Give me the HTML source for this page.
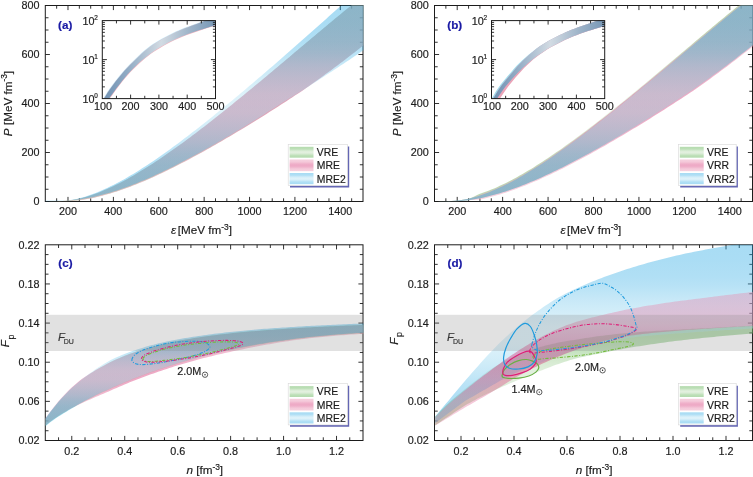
<!DOCTYPE html>
<html><head><meta charset="utf-8"><title>EoS bands</title>
<style>html,body{margin:0;padding:0;background:#fff;}body{width:753px;height:477px;overflow:hidden;font-family:"Liberation Sans", sans-serif;}svg{display:block;will-change:transform;}text{stroke:#1c1c1c;stroke-width:0.18px;}</style></head>
<body>
<svg width="753" height="477" viewBox="0 0 753 477" font-family='"Liberation Sans", sans-serif' fill="#1c1c1c" shape-rendering="geometricPrecision">
<defs><clipPath id="c1"><rect x="45.3" y="5.5" width="318.2" height="196"/></clipPath><linearGradient id="g2" gradientUnits="userSpaceOnUse" x1="0" y1="5.5" x2="0" y2="201.5"><stop offset="0" stop-color="#6db961"/><stop offset="0.1" stop-color="#71bb66"/><stop offset="0.19" stop-color="#7cc071"/><stop offset="0.24" stop-color="#88c57e"/><stop offset="0.31" stop-color="#a1d197"/><stop offset="0.38" stop-color="#b4d9ac"/><stop offset="0.45" stop-color="#c3e0bb"/><stop offset="0.5" stop-color="#c5e1bd"/><stop offset="0.55" stop-color="#c3e0bb"/><stop offset="0.62" stop-color="#b4d9ac"/><stop offset="0.69" stop-color="#a1d197"/><stop offset="0.76" stop-color="#88c57e"/><stop offset="0.81" stop-color="#7cc071"/><stop offset="0.9" stop-color="#71bb66"/><stop offset="1" stop-color="#6db961"/></linearGradient><linearGradient id="g3" gradientUnits="userSpaceOnUse" x1="0" y1="5.5" x2="0" y2="201.5"><stop offset="0" stop-color="#eda1bd"/><stop offset="0.1" stop-color="#ec9dbb"/><stop offset="0.19" stop-color="#ea94b5"/><stop offset="0.24" stop-color="#e889ae"/><stop offset="0.31" stop-color="#e474a1"/><stop offset="0.38" stop-color="#e06396"/><stop offset="0.45" stop-color="#dd578e"/><stop offset="0.5" stop-color="#dd558d"/><stop offset="0.55" stop-color="#dd578e"/><stop offset="0.62" stop-color="#e06396"/><stop offset="0.69" stop-color="#e474a1"/><stop offset="0.76" stop-color="#e889ae"/><stop offset="0.81" stop-color="#ea94b5"/><stop offset="0.9" stop-color="#ec9dbb"/><stop offset="1" stop-color="#eda1bd"/></linearGradient><linearGradient id="g4" gradientUnits="userSpaceOnUse" x1="0" y1="5.5" x2="0" y2="201.5"><stop offset="0" stop-color="#25a7e3"/><stop offset="0.1" stop-color="#2caae4"/><stop offset="0.19" stop-color="#3cb0e6"/><stop offset="0.24" stop-color="#4fb8e8"/><stop offset="0.31" stop-color="#75c7ec"/><stop offset="0.38" stop-color="#92d4ef"/><stop offset="0.45" stop-color="#a9ddf2"/><stop offset="0.5" stop-color="#acdef2"/><stop offset="0.55" stop-color="#a9ddf2"/><stop offset="0.62" stop-color="#92d4ef"/><stop offset="0.69" stop-color="#75c7ec"/><stop offset="0.76" stop-color="#4fb8e8"/><stop offset="0.81" stop-color="#3cb0e6"/><stop offset="0.9" stop-color="#2caae4"/><stop offset="1" stop-color="#25a7e3"/></linearGradient><clipPath id="c5"><rect x="102.3" y="20.6" width="113.2" height="78"/></clipPath><linearGradient id="g6" gradientUnits="userSpaceOnUse" x1="102.3" y1="0" x2="215.5" y2="0"><stop offset="0" stop-color="#6e90b2"/><stop offset="0.22" stop-color="#90abc4"/><stop offset="0.52" stop-color="#d2dbe3"/><stop offset="0.78" stop-color="#9db3c8"/><stop offset="1" stop-color="#7797b6"/></linearGradient><linearGradient id="g7" gradientUnits="userSpaceOnUse" x1="0" y1="146.8" x2="0" y2="157.7"><stop offset="0" stop-color="#6db961"/><stop offset="0.1" stop-color="#71bb66"/><stop offset="0.19" stop-color="#7cc071"/><stop offset="0.24" stop-color="#88c57e"/><stop offset="0.31" stop-color="#a1d197"/><stop offset="0.38" stop-color="#b4d9ac"/><stop offset="0.45" stop-color="#c3e0bb"/><stop offset="0.5" stop-color="#c5e1bd"/><stop offset="0.55" stop-color="#c3e0bb"/><stop offset="0.62" stop-color="#b4d9ac"/><stop offset="0.69" stop-color="#a1d197"/><stop offset="0.76" stop-color="#88c57e"/><stop offset="0.81" stop-color="#7cc071"/><stop offset="0.9" stop-color="#71bb66"/><stop offset="1" stop-color="#6db961"/></linearGradient><linearGradient id="g8" gradientUnits="userSpaceOnUse" x1="0" y1="159.5" x2="0" y2="171.2"><stop offset="0" stop-color="#eda1bd"/><stop offset="0.1" stop-color="#ec9dbb"/><stop offset="0.19" stop-color="#ea94b5"/><stop offset="0.24" stop-color="#e889ae"/><stop offset="0.31" stop-color="#e474a1"/><stop offset="0.38" stop-color="#e06396"/><stop offset="0.45" stop-color="#dd578e"/><stop offset="0.5" stop-color="#dd558d"/><stop offset="0.55" stop-color="#dd578e"/><stop offset="0.62" stop-color="#e06396"/><stop offset="0.69" stop-color="#e474a1"/><stop offset="0.76" stop-color="#e889ae"/><stop offset="0.81" stop-color="#ea94b5"/><stop offset="0.9" stop-color="#ec9dbb"/><stop offset="1" stop-color="#eda1bd"/></linearGradient><linearGradient id="g9" gradientUnits="userSpaceOnUse" x1="0" y1="173" x2="0" y2="184.2"><stop offset="0" stop-color="#25a7e3"/><stop offset="0.1" stop-color="#2caae4"/><stop offset="0.19" stop-color="#3cb0e6"/><stop offset="0.24" stop-color="#4fb8e8"/><stop offset="0.31" stop-color="#75c7ec"/><stop offset="0.38" stop-color="#92d4ef"/><stop offset="0.45" stop-color="#a9ddf2"/><stop offset="0.5" stop-color="#acdef2"/><stop offset="0.55" stop-color="#a9ddf2"/><stop offset="0.62" stop-color="#92d4ef"/><stop offset="0.69" stop-color="#75c7ec"/><stop offset="0.76" stop-color="#4fb8e8"/><stop offset="0.81" stop-color="#3cb0e6"/><stop offset="0.9" stop-color="#2caae4"/><stop offset="1" stop-color="#25a7e3"/></linearGradient><clipPath id="c10"><rect x="434.5" y="5.5" width="318.5" height="196"/></clipPath><linearGradient id="g11" gradientUnits="userSpaceOnUse" x1="0" y1="5.5" x2="0" y2="201.5"><stop offset="0" stop-color="#6db961"/><stop offset="0.1" stop-color="#71bb66"/><stop offset="0.19" stop-color="#7cc071"/><stop offset="0.24" stop-color="#88c57e"/><stop offset="0.31" stop-color="#a1d197"/><stop offset="0.38" stop-color="#b4d9ac"/><stop offset="0.45" stop-color="#c3e0bb"/><stop offset="0.5" stop-color="#c5e1bd"/><stop offset="0.55" stop-color="#c3e0bb"/><stop offset="0.62" stop-color="#b4d9ac"/><stop offset="0.69" stop-color="#a1d197"/><stop offset="0.76" stop-color="#88c57e"/><stop offset="0.81" stop-color="#7cc071"/><stop offset="0.9" stop-color="#71bb66"/><stop offset="1" stop-color="#6db961"/></linearGradient><linearGradient id="g12" gradientUnits="userSpaceOnUse" x1="0" y1="5.5" x2="0" y2="201.5"><stop offset="0" stop-color="#eda1bd"/><stop offset="0.1" stop-color="#ec9dbb"/><stop offset="0.19" stop-color="#ea94b5"/><stop offset="0.24" stop-color="#e889ae"/><stop offset="0.31" stop-color="#e474a1"/><stop offset="0.38" stop-color="#e06396"/><stop offset="0.45" stop-color="#dd578e"/><stop offset="0.5" stop-color="#dd558d"/><stop offset="0.55" stop-color="#dd578e"/><stop offset="0.62" stop-color="#e06396"/><stop offset="0.69" stop-color="#e474a1"/><stop offset="0.76" stop-color="#e889ae"/><stop offset="0.81" stop-color="#ea94b5"/><stop offset="0.9" stop-color="#ec9dbb"/><stop offset="1" stop-color="#eda1bd"/></linearGradient><linearGradient id="g13" gradientUnits="userSpaceOnUse" x1="0" y1="5.5" x2="0" y2="201.5"><stop offset="0" stop-color="#25a7e3"/><stop offset="0.1" stop-color="#2caae4"/><stop offset="0.19" stop-color="#3cb0e6"/><stop offset="0.24" stop-color="#4fb8e8"/><stop offset="0.31" stop-color="#75c7ec"/><stop offset="0.38" stop-color="#92d4ef"/><stop offset="0.45" stop-color="#a9ddf2"/><stop offset="0.5" stop-color="#acdef2"/><stop offset="0.55" stop-color="#a9ddf2"/><stop offset="0.62" stop-color="#92d4ef"/><stop offset="0.69" stop-color="#75c7ec"/><stop offset="0.76" stop-color="#4fb8e8"/><stop offset="0.81" stop-color="#3cb0e6"/><stop offset="0.9" stop-color="#2caae4"/><stop offset="1" stop-color="#25a7e3"/></linearGradient><clipPath id="c14"><rect x="491.5" y="20.6" width="113.2" height="78"/></clipPath><linearGradient id="g15" gradientUnits="userSpaceOnUse" x1="491.5" y1="0" x2="604.7" y2="0"><stop offset="0" stop-color="#6e90b2"/><stop offset="0.22" stop-color="#90abc4"/><stop offset="0.52" stop-color="#d2dbe3"/><stop offset="0.78" stop-color="#9db3c8"/><stop offset="1" stop-color="#7797b6"/></linearGradient><linearGradient id="g16" gradientUnits="userSpaceOnUse" x1="0" y1="146.8" x2="0" y2="157.7"><stop offset="0" stop-color="#6db961"/><stop offset="0.1" stop-color="#71bb66"/><stop offset="0.19" stop-color="#7cc071"/><stop offset="0.24" stop-color="#88c57e"/><stop offset="0.31" stop-color="#a1d197"/><stop offset="0.38" stop-color="#b4d9ac"/><stop offset="0.45" stop-color="#c3e0bb"/><stop offset="0.5" stop-color="#c5e1bd"/><stop offset="0.55" stop-color="#c3e0bb"/><stop offset="0.62" stop-color="#b4d9ac"/><stop offset="0.69" stop-color="#a1d197"/><stop offset="0.76" stop-color="#88c57e"/><stop offset="0.81" stop-color="#7cc071"/><stop offset="0.9" stop-color="#71bb66"/><stop offset="1" stop-color="#6db961"/></linearGradient><linearGradient id="g17" gradientUnits="userSpaceOnUse" x1="0" y1="159.5" x2="0" y2="171.2"><stop offset="0" stop-color="#eda1bd"/><stop offset="0.1" stop-color="#ec9dbb"/><stop offset="0.19" stop-color="#ea94b5"/><stop offset="0.24" stop-color="#e889ae"/><stop offset="0.31" stop-color="#e474a1"/><stop offset="0.38" stop-color="#e06396"/><stop offset="0.45" stop-color="#dd578e"/><stop offset="0.5" stop-color="#dd558d"/><stop offset="0.55" stop-color="#dd578e"/><stop offset="0.62" stop-color="#e06396"/><stop offset="0.69" stop-color="#e474a1"/><stop offset="0.76" stop-color="#e889ae"/><stop offset="0.81" stop-color="#ea94b5"/><stop offset="0.9" stop-color="#ec9dbb"/><stop offset="1" stop-color="#eda1bd"/></linearGradient><linearGradient id="g18" gradientUnits="userSpaceOnUse" x1="0" y1="173" x2="0" y2="184.2"><stop offset="0" stop-color="#25a7e3"/><stop offset="0.1" stop-color="#2caae4"/><stop offset="0.19" stop-color="#3cb0e6"/><stop offset="0.24" stop-color="#4fb8e8"/><stop offset="0.31" stop-color="#75c7ec"/><stop offset="0.38" stop-color="#92d4ef"/><stop offset="0.45" stop-color="#a9ddf2"/><stop offset="0.5" stop-color="#acdef2"/><stop offset="0.55" stop-color="#a9ddf2"/><stop offset="0.62" stop-color="#92d4ef"/><stop offset="0.69" stop-color="#75c7ec"/><stop offset="0.76" stop-color="#4fb8e8"/><stop offset="0.81" stop-color="#3cb0e6"/><stop offset="0.9" stop-color="#2caae4"/><stop offset="1" stop-color="#25a7e3"/></linearGradient><clipPath id="c19"><rect x="45.3" y="244.8" width="318.2" height="195.7"/></clipPath><linearGradient id="g20" gradientUnits="userSpaceOnUse" x1="0" y1="324" x2="0" y2="426"><stop offset="0" stop-color="#6db961"/><stop offset="0.1" stop-color="#71bb66"/><stop offset="0.19" stop-color="#7cc071"/><stop offset="0.24" stop-color="#88c57e"/><stop offset="0.31" stop-color="#a1d197"/><stop offset="0.38" stop-color="#b4d9ac"/><stop offset="0.45" stop-color="#c3e0bb"/><stop offset="0.5" stop-color="#c5e1bd"/><stop offset="0.55" stop-color="#c3e0bb"/><stop offset="0.62" stop-color="#b4d9ac"/><stop offset="0.69" stop-color="#a1d197"/><stop offset="0.76" stop-color="#88c57e"/><stop offset="0.81" stop-color="#7cc071"/><stop offset="0.9" stop-color="#71bb66"/><stop offset="1" stop-color="#6db961"/></linearGradient><linearGradient id="g21" gradientUnits="userSpaceOnUse" x1="0" y1="324" x2="0" y2="426"><stop offset="0" stop-color="#eda1bd"/><stop offset="0.1" stop-color="#ec9dbb"/><stop offset="0.19" stop-color="#ea94b5"/><stop offset="0.24" stop-color="#e889ae"/><stop offset="0.31" stop-color="#e474a1"/><stop offset="0.38" stop-color="#e06396"/><stop offset="0.45" stop-color="#dd578e"/><stop offset="0.5" stop-color="#dd558d"/><stop offset="0.55" stop-color="#dd578e"/><stop offset="0.62" stop-color="#e06396"/><stop offset="0.69" stop-color="#e474a1"/><stop offset="0.76" stop-color="#e889ae"/><stop offset="0.81" stop-color="#ea94b5"/><stop offset="0.9" stop-color="#ec9dbb"/><stop offset="1" stop-color="#eda1bd"/></linearGradient><linearGradient id="g22" gradientUnits="userSpaceOnUse" x1="0" y1="324" x2="0" y2="426"><stop offset="0" stop-color="#25a7e3"/><stop offset="0.1" stop-color="#2caae4"/><stop offset="0.19" stop-color="#3cb0e6"/><stop offset="0.24" stop-color="#4fb8e8"/><stop offset="0.31" stop-color="#75c7ec"/><stop offset="0.38" stop-color="#92d4ef"/><stop offset="0.45" stop-color="#a9ddf2"/><stop offset="0.5" stop-color="#acdef2"/><stop offset="0.55" stop-color="#a9ddf2"/><stop offset="0.62" stop-color="#92d4ef"/><stop offset="0.69" stop-color="#75c7ec"/><stop offset="0.76" stop-color="#4fb8e8"/><stop offset="0.81" stop-color="#3cb0e6"/><stop offset="0.9" stop-color="#2caae4"/><stop offset="1" stop-color="#25a7e3"/></linearGradient><linearGradient id="g23" gradientUnits="userSpaceOnUse" x1="0" y1="386.1" x2="0" y2="397"><stop offset="0" stop-color="#6db961"/><stop offset="0.1" stop-color="#71bb66"/><stop offset="0.19" stop-color="#7cc071"/><stop offset="0.24" stop-color="#88c57e"/><stop offset="0.31" stop-color="#a1d197"/><stop offset="0.38" stop-color="#b4d9ac"/><stop offset="0.45" stop-color="#c3e0bb"/><stop offset="0.5" stop-color="#c5e1bd"/><stop offset="0.55" stop-color="#c3e0bb"/><stop offset="0.62" stop-color="#b4d9ac"/><stop offset="0.69" stop-color="#a1d197"/><stop offset="0.76" stop-color="#88c57e"/><stop offset="0.81" stop-color="#7cc071"/><stop offset="0.9" stop-color="#71bb66"/><stop offset="1" stop-color="#6db961"/></linearGradient><linearGradient id="g24" gradientUnits="userSpaceOnUse" x1="0" y1="398.8" x2="0" y2="410.5"><stop offset="0" stop-color="#eda1bd"/><stop offset="0.1" stop-color="#ec9dbb"/><stop offset="0.19" stop-color="#ea94b5"/><stop offset="0.24" stop-color="#e889ae"/><stop offset="0.31" stop-color="#e474a1"/><stop offset="0.38" stop-color="#e06396"/><stop offset="0.45" stop-color="#dd578e"/><stop offset="0.5" stop-color="#dd558d"/><stop offset="0.55" stop-color="#dd578e"/><stop offset="0.62" stop-color="#e06396"/><stop offset="0.69" stop-color="#e474a1"/><stop offset="0.76" stop-color="#e889ae"/><stop offset="0.81" stop-color="#ea94b5"/><stop offset="0.9" stop-color="#ec9dbb"/><stop offset="1" stop-color="#eda1bd"/></linearGradient><linearGradient id="g25" gradientUnits="userSpaceOnUse" x1="0" y1="412.3" x2="0" y2="423.5"><stop offset="0" stop-color="#25a7e3"/><stop offset="0.1" stop-color="#2caae4"/><stop offset="0.19" stop-color="#3cb0e6"/><stop offset="0.24" stop-color="#4fb8e8"/><stop offset="0.31" stop-color="#75c7ec"/><stop offset="0.38" stop-color="#92d4ef"/><stop offset="0.45" stop-color="#a9ddf2"/><stop offset="0.5" stop-color="#acdef2"/><stop offset="0.55" stop-color="#a9ddf2"/><stop offset="0.62" stop-color="#92d4ef"/><stop offset="0.69" stop-color="#75c7ec"/><stop offset="0.76" stop-color="#4fb8e8"/><stop offset="0.81" stop-color="#3cb0e6"/><stop offset="0.9" stop-color="#2caae4"/><stop offset="1" stop-color="#25a7e3"/></linearGradient><clipPath id="c26"><rect x="434.5" y="244.8" width="318.5" height="195.7"/></clipPath><linearGradient id="g27" gradientUnits="userSpaceOnUse" x1="0" y1="326" x2="0" y2="426.4"><stop offset="0" stop-color="#6db961"/><stop offset="0.1" stop-color="#71bb66"/><stop offset="0.19" stop-color="#7cc071"/><stop offset="0.24" stop-color="#88c57e"/><stop offset="0.31" stop-color="#a1d197"/><stop offset="0.38" stop-color="#b4d9ac"/><stop offset="0.45" stop-color="#c3e0bb"/><stop offset="0.5" stop-color="#c5e1bd"/><stop offset="0.55" stop-color="#c3e0bb"/><stop offset="0.62" stop-color="#b4d9ac"/><stop offset="0.69" stop-color="#a1d197"/><stop offset="0.76" stop-color="#88c57e"/><stop offset="0.81" stop-color="#7cc071"/><stop offset="0.9" stop-color="#71bb66"/><stop offset="1" stop-color="#6db961"/></linearGradient><linearGradient id="g28" gradientUnits="userSpaceOnUse" x1="0" y1="292" x2="0" y2="430"><stop offset="0" stop-color="#e88aad"/><stop offset="0.1" stop-color="#e785aa"/><stop offset="0.19" stop-color="#e57aa3"/><stop offset="0.24" stop-color="#e26d9a"/><stop offset="0.31" stop-color="#dd528a"/><stop offset="0.38" stop-color="#d93d7c"/><stop offset="0.45" stop-color="#d52d72"/><stop offset="0.5" stop-color="#d52b71"/><stop offset="0.55" stop-color="#d52d72"/><stop offset="0.62" stop-color="#d93d7c"/><stop offset="0.69" stop-color="#dd528a"/><stop offset="0.76" stop-color="#e26d9a"/><stop offset="0.81" stop-color="#e57aa3"/><stop offset="0.9" stop-color="#e785aa"/><stop offset="1" stop-color="#e88aad"/></linearGradient><linearGradient id="g29" gradientUnits="userSpaceOnUse" x1="0" y1="241.5" x2="0" y2="430"><stop offset="0" stop-color="#25a7e3"/><stop offset="0.1" stop-color="#2caae4"/><stop offset="0.19" stop-color="#3cb0e6"/><stop offset="0.24" stop-color="#4fb8e8"/><stop offset="0.31" stop-color="#75c7ec"/><stop offset="0.38" stop-color="#92d4ef"/><stop offset="0.45" stop-color="#a9ddf2"/><stop offset="0.5" stop-color="#acdef2"/><stop offset="0.55" stop-color="#a9ddf2"/><stop offset="0.62" stop-color="#92d4ef"/><stop offset="0.69" stop-color="#75c7ec"/><stop offset="0.76" stop-color="#4fb8e8"/><stop offset="0.81" stop-color="#3cb0e6"/><stop offset="0.9" stop-color="#2caae4"/><stop offset="1" stop-color="#25a7e3"/></linearGradient><linearGradient id="g30" gradientUnits="userSpaceOnUse" x1="0" y1="386.1" x2="0" y2="397"><stop offset="0" stop-color="#6db961"/><stop offset="0.1" stop-color="#71bb66"/><stop offset="0.19" stop-color="#7cc071"/><stop offset="0.24" stop-color="#88c57e"/><stop offset="0.31" stop-color="#a1d197"/><stop offset="0.38" stop-color="#b4d9ac"/><stop offset="0.45" stop-color="#c3e0bb"/><stop offset="0.5" stop-color="#c5e1bd"/><stop offset="0.55" stop-color="#c3e0bb"/><stop offset="0.62" stop-color="#b4d9ac"/><stop offset="0.69" stop-color="#a1d197"/><stop offset="0.76" stop-color="#88c57e"/><stop offset="0.81" stop-color="#7cc071"/><stop offset="0.9" stop-color="#71bb66"/><stop offset="1" stop-color="#6db961"/></linearGradient><linearGradient id="g31" gradientUnits="userSpaceOnUse" x1="0" y1="398.8" x2="0" y2="410.5"><stop offset="0" stop-color="#eda1bd"/><stop offset="0.1" stop-color="#ec9dbb"/><stop offset="0.19" stop-color="#ea94b5"/><stop offset="0.24" stop-color="#e889ae"/><stop offset="0.31" stop-color="#e474a1"/><stop offset="0.38" stop-color="#e06396"/><stop offset="0.45" stop-color="#dd578e"/><stop offset="0.5" stop-color="#dd558d"/><stop offset="0.55" stop-color="#dd578e"/><stop offset="0.62" stop-color="#e06396"/><stop offset="0.69" stop-color="#e474a1"/><stop offset="0.76" stop-color="#e889ae"/><stop offset="0.81" stop-color="#ea94b5"/><stop offset="0.9" stop-color="#ec9dbb"/><stop offset="1" stop-color="#eda1bd"/></linearGradient><linearGradient id="g32" gradientUnits="userSpaceOnUse" x1="0" y1="412.3" x2="0" y2="423.5"><stop offset="0" stop-color="#25a7e3"/><stop offset="0.1" stop-color="#2caae4"/><stop offset="0.19" stop-color="#3cb0e6"/><stop offset="0.24" stop-color="#4fb8e8"/><stop offset="0.31" stop-color="#75c7ec"/><stop offset="0.38" stop-color="#92d4ef"/><stop offset="0.45" stop-color="#a9ddf2"/><stop offset="0.5" stop-color="#acdef2"/><stop offset="0.55" stop-color="#a9ddf2"/><stop offset="0.62" stop-color="#92d4ef"/><stop offset="0.69" stop-color="#75c7ec"/><stop offset="0.76" stop-color="#4fb8e8"/><stop offset="0.81" stop-color="#3cb0e6"/><stop offset="0.9" stop-color="#2caae4"/><stop offset="1" stop-color="#25a7e3"/></linearGradient></defs>
<rect x="45.3" y="5.5" width="317.7" height="196" fill="none" stroke="#1c1c1c" stroke-width="1.0"/>
<path d="M67.99 201.5v-4.6 M67.99 5.5v4.6 M113.38 201.5v-4.6 M113.38 5.5v4.6 M158.76 201.5v-4.6 M158.76 5.5v4.6 M204.15 201.5v-4.6 M204.15 5.5v4.6 M249.54 201.5v-4.6 M249.54 5.5v4.6 M294.92 201.5v-4.6 M294.92 5.5v4.6 M340.31 201.5v-4.6 M340.31 5.5v4.6 M56.65 201.5v-3.2 M56.65 5.5v3.2 M79.34 201.5v-3.2 M79.34 5.5v3.2 M90.69 201.5v-3.2 M90.69 5.5v3.2 M102.03 201.5v-3.2 M102.03 5.5v3.2 M124.72 201.5v-3.2 M124.72 5.5v3.2 M136.07 201.5v-3.2 M136.07 5.5v3.2 M147.42 201.5v-3.2 M147.42 5.5v3.2 M170.11 201.5v-3.2 M170.11 5.5v3.2 M181.46 201.5v-3.2 M181.46 5.5v3.2 M192.8 201.5v-3.2 M192.8 5.5v3.2 M215.5 201.5v-3.2 M215.5 5.5v3.2 M226.84 201.5v-3.2 M226.84 5.5v3.2 M238.19 201.5v-3.2 M238.19 5.5v3.2 M260.88 201.5v-3.2 M260.88 5.5v3.2 M272.23 201.5v-3.2 M272.23 5.5v3.2 M283.57 201.5v-3.2 M283.57 5.5v3.2 M306.27 201.5v-3.2 M306.27 5.5v3.2 M317.61 201.5v-3.2 M317.61 5.5v3.2 M328.96 201.5v-3.2 M328.96 5.5v3.2 M351.65 201.5v-3.2 M351.65 5.5v3.2 " stroke="#1c1c1c" stroke-width="0.9" fill="none"/>
<path d="M45.3 152.5h4.6 M363 152.5h-4.6 M45.3 103.5h4.6 M363 103.5h-4.6 M45.3 54.5h4.6 M363 54.5h-4.6 M45.3 189.25h3.2 M363 189.25h-3.2 M45.3 177h3.2 M363 177h-3.2 M45.3 164.75h3.2 M363 164.75h-3.2 M45.3 140.25h3.2 M363 140.25h-3.2 M45.3 128h3.2 M363 128h-3.2 M45.3 115.75h3.2 M363 115.75h-3.2 M45.3 91.25h3.2 M363 91.25h-3.2 M45.3 79h3.2 M363 79h-3.2 M45.3 66.75h3.2 M363 66.75h-3.2 M45.3 42.25h3.2 M363 42.25h-3.2 M45.3 30h3.2 M363 30h-3.2 M45.3 17.75h3.2 M363 17.75h-3.2 " stroke="#1c1c1c" stroke-width="0.9" fill="none"/>
<text x="67.99" y="215.2" font-size="10.8" text-anchor="middle" >200</text>
<text x="113.38" y="215.2" font-size="10.8" text-anchor="middle" >400</text>
<text x="158.76" y="215.2" font-size="10.8" text-anchor="middle" >600</text>
<text x="204.15" y="215.2" font-size="10.8" text-anchor="middle" >800</text>
<text x="249.54" y="215.2" font-size="10.8" text-anchor="middle" >1000</text>
<text x="294.92" y="215.2" font-size="10.8" text-anchor="middle" >1200</text>
<text x="340.31" y="215.2" font-size="10.8" text-anchor="middle" >1400</text>
<text x="39.5" y="205.3" font-size="10.8" text-anchor="end" >0</text>
<text x="39.5" y="156.3" font-size="10.8" text-anchor="end" >200</text>
<text x="39.5" y="107.3" font-size="10.8" text-anchor="end" >400</text>
<text x="39.5" y="58.3" font-size="10.8" text-anchor="end" >600</text>
<text x="39.5" y="9.3" font-size="10.8" text-anchor="end" >800</text>
<text x="201.55" y="233.7" font-size="11.7" text-anchor="middle" ><tspan font-style="italic">&#949;</tspan><tspan dx="1.5">[MeV fm</tspan><tspan dy="-4.2" font-size="8.4">-3</tspan><tspan dy="4.2">]</tspan></text>
<text transform="translate(11.6 103.5) rotate(-90)" font-size="11.7" text-anchor="middle"><tspan font-style="italic">P</tspan> [MeV fm<tspan dy="-4.2" font-size="8.4">-3</tspan><tspan dy="4.2">]</tspan></text>
<text x="58.1" y="28.6" font-size="11.7" text-anchor="start" font-weight="bold" fill="#1a1aa4" style="stroke:#1a1aa4">(a)</text>
<g clip-path="url(#c1)">
<path d="M45.3 201.5 L48.14 201.43 L50.97 201.37 L53.81 201.3 L56.65 201.21 L59.48 201.09 L62.32 200.94 L65.16 200.75 L67.99 200.52 L70.83 200.21 L73.67 199.79 L76.5 199.3 L79.34 198.74 L82.18 198.09 L85.01 197.29 L87.85 196.42 L90.69 195.5 L93.52 194.55 L96.36 193.51 L99.2 192.42 L102.03 191.29 L104.87 190.11 L107.71 188.86 L110.54 187.57 L113.38 186.23 L116.22 184.85 L119.05 183.42 L121.89 181.95 L124.72 180.44 L127.56 178.9 L130.4 177.31 L133.23 175.68 L136.07 174.03 L138.91 172.34 L141.74 170.61 L144.58 168.85 L147.42 167.07 L150.25 165.26 L153.09 163.42 L155.93 161.55 L158.76 159.66 L161.6 157.74 L164.44 155.8 L167.27 153.83 L170.11 151.85 L172.95 149.85 L175.78 147.82 L178.62 145.77 L181.46 143.71 L184.29 141.63 L187.13 139.53 L189.97 137.42 L192.8 135.29 L195.64 133.15 L198.48 130.99 L201.31 128.81 L204.15 126.63 L206.99 124.43 L209.82 122.22 L212.66 120 L215.5 117.77 L218.33 115.53 L221.17 113.27 L224.01 111.01 L226.84 108.74 L229.68 106.46 L232.52 104.17 L235.35 101.87 L238.19 99.56 L241.03 97.25 L243.86 94.93 L246.7 92.61 L249.54 90.27 L252.37 87.94 L255.21 85.59 L258.05 83.24 L260.88 80.89 L263.72 78.53 L266.56 76.17 L269.39 73.8 L272.23 71.43 L275.07 69.06 L277.9 66.68 L280.74 64.3 L283.57 61.92 L286.41 59.53 L289.25 57.15 L292.08 54.76 L294.92 52.37 L297.76 49.99 L300.59 47.6 L303.43 45.21 L306.27 42.82 L309.1 40.44 L311.94 38.06 L314.78 35.67 L317.61 33.3 L320.45 30.92 L323.29 28.55 L326.12 26.18 L328.96 23.82 L331.8 21.46 L334.63 19.11 L337.47 16.76 L340.31 14.42 L343.14 12.09 L345.98 9.77 L348.82 7.46 L351.65 5.16 L354.49 2.87 L357.33 0.59 L360.16 -1.68 L363 -3.93 L365.84 -6.16 L368.67 -8.38 L371.51 -10.58 L374.35 -12.79 L374.35 36.15 L371.51 38.47 L368.67 40.8 L365.84 43.11 L363 45.41 L360.16 47.67 L357.33 49.91 L354.49 52.14 L351.65 54.35 L348.82 56.55 L345.98 58.72 L343.14 60.88 L340.31 63.03 L337.47 65.16 L334.63 67.28 L331.8 69.38 L328.96 71.47 L326.12 73.55 L323.29 75.62 L320.45 77.67 L317.61 79.71 L314.78 81.75 L311.94 83.79 L309.1 85.8 L306.27 87.77 L303.43 89.7 L300.59 91.59 L297.76 93.46 L294.92 95.33 L292.08 97.19 L289.25 99.05 L286.41 100.9 L283.57 102.74 L280.74 104.57 L277.9 106.39 L275.07 108.21 L272.23 110.01 L269.39 111.81 L266.56 113.6 L263.72 115.39 L260.88 117.16 L258.05 118.93 L255.21 120.69 L252.37 122.44 L249.54 124.18 L246.7 125.92 L243.86 127.64 L241.03 129.36 L238.19 131.07 L235.35 132.77 L232.52 134.46 L229.68 136.15 L226.84 137.82 L224.01 139.48 L221.17 141.14 L218.33 142.78 L215.5 144.41 L212.66 146.04 L209.82 147.65 L206.99 149.25 L204.15 150.84 L201.31 152.41 L198.48 153.98 L195.64 155.53 L192.8 157.07 L189.97 158.59 L187.13 160.1 L184.29 161.6 L181.46 163.07 L178.62 164.54 L175.78 165.99 L172.95 167.42 L170.11 168.83 L167.27 170.22 L164.44 171.6 L161.6 172.96 L158.76 174.29 L155.93 175.6 L153.09 176.9 L150.25 178.17 L147.42 179.42 L144.58 180.64 L141.74 181.84 L138.91 183.02 L136.07 184.17 L133.23 185.29 L130.4 186.38 L127.56 187.45 L124.72 188.48 L121.89 189.49 L119.05 190.46 L116.22 191.41 L113.38 192.31 L110.54 193.18 L107.71 194.03 L104.87 194.83 L102.03 195.59 L99.2 196.31 L96.36 197 L93.52 197.65 L90.69 198.25 L87.85 198.82 L85.01 199.36 L82.18 199.84 L79.34 200.22 L76.5 200.54 L73.67 200.81 L70.83 201.04 L67.99 201.18 L65.16 201.27 L62.32 201.34 L59.48 201.39 L56.65 201.43 L53.81 201.45 L50.97 201.47 L48.14 201.48 L45.3 201.5 Z" fill="url(#g2)" fill-opacity="0.5"/>
<path d="M45.3 201.5 L48.14 201.43 L50.97 201.37 L53.81 201.3 L56.65 201.21 L59.48 201.09 L62.32 200.94 L65.16 200.75 L67.99 200.52 L70.83 200.21 L73.67 199.79 L76.5 199.3 L79.34 198.74 L82.18 198.09 L85.01 197.29 L87.85 196.42 L90.69 195.5 L93.52 194.55 L96.36 193.51 L99.2 192.42 L102.03 191.29 L104.87 190.11 L107.71 188.86 L110.54 187.57 L113.38 186.23 L116.22 184.85 L119.05 183.42 L121.89 181.95 L124.72 180.44 L127.56 178.9 L130.4 177.31 L133.23 175.68 L136.07 174.03 L138.91 172.34 L141.74 170.61 L144.58 168.85 L147.42 167.07 L150.25 165.26 L153.09 163.42 L155.93 161.55 L158.76 159.66 L161.6 157.74 L164.44 155.8 L167.27 153.83 L170.11 151.85 L172.95 149.85 L175.78 147.82 L178.62 145.77 L181.46 143.71 L184.29 141.63 L187.13 139.53 L189.97 137.42 L192.8 135.29 L195.64 133.15 L198.48 130.99 L201.31 128.81 L204.15 126.63 L206.99 124.43 L209.82 122.22 L212.66 120 L215.5 117.77 L218.33 115.53 L221.17 113.27 L224.01 111.01 L226.84 108.74 L229.68 106.46 L232.52 104.17 L235.35 101.87 L238.19 99.56 L241.03 97.25 L243.86 94.93 L246.7 92.61 L249.54 90.27 L252.37 87.94 L255.21 85.59 L258.05 83.24 L260.88 80.89 L263.72 78.53 L266.56 76.17 L269.39 73.8 L272.23 71.43 L275.07 69.06 L277.9 66.68 L280.74 64.3 L283.57 61.92 L286.41 59.53 L289.25 57.15 L292.08 54.76 L294.92 52.37 L297.76 49.99 L300.59 47.6 L303.43 45.21 L306.27 42.82 L309.1 40.44 L311.94 38.06 L314.78 35.67 L317.61 33.3 L320.45 30.92 L323.29 28.55 L326.12 26.18 L328.96 23.82 L331.8 21.46 L334.63 19.11 L337.47 16.76 L340.31 14.42 L343.14 12.09 L345.98 9.77 L348.82 7.46 L351.65 5.16 L354.49 2.87 L357.33 0.59 L360.16 -1.68 L363 -3.93 L365.84 -6.16 L368.67 -8.38 L371.51 -10.58 L374.35 -12.79 L374.35 36.45 L371.51 38.77 L368.67 41.09 L365.84 43.41 L363 45.7 L360.16 47.96 L357.33 50.21 L354.49 52.44 L351.65 54.65 L348.82 56.84 L345.98 59.02 L343.14 61.18 L340.31 63.32 L337.47 65.46 L334.63 67.57 L331.8 69.68 L328.96 71.77 L326.12 73.85 L323.29 75.91 L320.45 77.96 L317.61 80.01 L314.78 82.05 L311.94 84.08 L309.1 86.09 L306.27 88.07 L303.43 89.99 L300.59 91.88 L297.76 93.75 L294.92 95.62 L292.08 97.49 L289.25 99.34 L286.41 101.19 L283.57 103.03 L280.74 104.86 L277.9 106.69 L275.07 108.5 L272.23 110.31 L269.39 112.11 L266.56 113.9 L263.72 115.68 L260.88 117.46 L258.05 119.22 L255.21 120.98 L252.37 122.73 L249.54 124.48 L246.7 126.21 L243.86 127.94 L241.03 129.65 L238.19 131.36 L235.35 133.06 L232.52 134.76 L229.68 136.44 L226.84 138.11 L224.01 139.78 L221.17 141.43 L218.33 143.07 L215.5 144.71 L212.66 146.33 L209.82 147.94 L206.99 149.54 L204.15 151.13 L201.31 152.71 L198.48 154.27 L195.64 155.82 L192.8 157.36 L189.97 158.88 L187.13 160.39 L184.29 161.89 L181.46 163.37 L178.62 164.83 L175.78 166.28 L172.95 167.71 L170.11 169.12 L167.27 170.52 L164.44 171.89 L161.6 173.25 L158.76 174.58 L155.93 175.9 L153.09 177.19 L150.25 178.47 L147.42 179.71 L144.58 180.94 L141.74 182.14 L138.91 183.32 L136.07 184.46 L133.23 185.58 L130.4 186.68 L127.56 187.75 L124.72 188.78 L121.89 189.78 L119.05 190.76 L116.22 191.7 L113.38 192.61 L110.54 193.48 L107.71 194.32 L104.87 195.12 L102.03 195.88 L99.2 196.62 L96.36 197.32 L93.52 197.98 L90.69 198.54 L87.85 199.04 L85.01 199.49 L82.18 199.89 L79.34 200.22 L76.5 200.53 L73.67 200.81 L70.83 201.03 L67.99 201.18 L65.16 201.27 L62.32 201.34 L59.48 201.39 L56.65 201.43 L53.81 201.45 L50.97 201.47 L48.14 201.48 L45.3 201.5 Z" fill="url(#g3)" fill-opacity="0.5"/>
<path d="M45.3 201.5 L48.14 201.42 L50.97 201.33 L53.81 201.25 L56.65 201.13 L59.48 200.98 L62.32 200.79 L65.16 200.55 L67.99 200.28 L70.83 199.91 L73.67 199.45 L76.5 198.9 L79.34 198.29 L82.18 197.57 L85.01 196.72 L87.85 195.78 L90.69 194.8 L93.52 193.77 L96.36 192.67 L99.2 191.51 L102.03 190.31 L104.87 189.06 L107.71 187.74 L110.54 186.37 L113.38 184.96 L116.22 183.51 L119.05 182.01 L121.89 180.46 L124.72 178.88 L127.56 177.26 L130.4 175.6 L133.23 173.9 L136.07 172.17 L138.91 170.41 L141.74 168.61 L144.58 166.78 L147.42 164.93 L150.25 163.04 L153.09 161.13 L155.93 159.19 L158.76 157.23 L161.6 155.25 L164.44 153.24 L167.27 151.21 L170.11 149.16 L172.95 147.09 L175.78 145 L178.62 142.88 L181.46 140.76 L184.29 138.62 L187.13 136.46 L189.97 134.28 L192.8 132.09 L195.64 129.88 L198.48 127.67 L201.31 125.43 L204.15 123.19 L206.99 120.93 L209.82 118.66 L212.66 116.38 L215.5 114.09 L218.33 111.79 L221.17 109.47 L224.01 107.15 L226.84 104.82 L229.68 102.48 L232.52 100.13 L235.35 97.77 L238.19 95.4 L241.03 93.02 L243.86 90.64 L246.7 88.25 L249.54 85.85 L252.37 83.44 L255.21 81.03 L258.05 78.61 L260.88 76.18 L263.72 73.75 L266.56 71.31 L269.39 68.86 L272.23 66.41 L275.07 63.95 L277.9 61.48 L280.74 59.01 L283.57 56.54 L286.41 54.06 L289.25 51.57 L292.08 49.08 L294.92 46.58 L297.76 44.08 L300.59 41.58 L303.43 39.07 L306.27 36.56 L309.1 34.04 L311.94 31.53 L314.78 29 L317.61 26.48 L320.45 23.95 L323.29 21.42 L326.12 18.89 L328.96 16.36 L331.8 13.82 L334.63 11.28 L337.47 8.75 L340.31 6.21 L343.14 3.68 L345.98 1.14 L348.82 -1.39 L351.65 -3.92 L354.49 -6.45 L357.33 -8.98 L360.16 -11.5 L363 -14.02 L365.84 -16.53 L368.67 -19.03 L371.51 -21.53 L374.35 -24.03 L374.35 42.6 L371.51 44.59 L368.67 46.59 L365.84 48.58 L363 50.55 L360.16 52.5 L357.33 54.44 L354.49 56.37 L351.65 58.28 L348.82 60.19 L345.98 62.08 L343.14 63.97 L340.31 65.84 L337.47 67.71 L334.63 69.57 L331.8 71.43 L328.96 73.28 L326.12 75.12 L323.29 76.96 L320.45 78.8 L317.61 80.63 L314.78 82.47 L311.94 84.3 L309.1 86.13 L306.27 87.93 L303.43 89.7 L300.59 91.44 L297.76 93.17 L294.92 94.91 L292.08 96.67 L289.25 98.44 L286.41 100.21 L283.57 102 L280.74 103.81 L277.9 105.64 L275.07 107.47 L272.23 109.28 L269.39 111.08 L266.56 112.87 L263.72 114.65 L260.88 116.43 L258.05 118.19 L255.21 119.95 L252.37 121.7 L249.54 123.45 L246.7 125.18 L243.86 126.91 L241.03 128.63 L238.19 130.33 L235.35 132.04 L232.52 133.73 L229.68 135.41 L226.84 137.08 L224.01 138.75 L221.17 140.4 L218.33 142.04 L215.5 143.68 L212.66 145.3 L209.82 146.91 L206.99 148.51 L204.15 150.1 L201.31 151.68 L198.48 153.24 L195.64 154.79 L192.8 156.33 L189.97 157.85 L187.13 159.37 L184.29 160.86 L181.46 162.34 L178.62 163.8 L175.78 165.25 L172.95 166.68 L170.11 168.09 L167.27 169.49 L164.44 170.86 L161.6 172.22 L158.76 173.56 L155.93 174.87 L153.09 176.16 L150.25 177.44 L147.42 178.68 L144.58 179.91 L141.74 181.11 L138.91 182.29 L136.07 183.43 L133.23 184.55 L130.4 185.65 L127.56 186.72 L124.72 187.75 L121.89 188.75 L119.05 189.73 L116.22 190.67 L113.38 191.58 L110.54 192.45 L107.71 193.29 L104.87 194.09 L102.03 194.85 L99.2 195.58 L96.36 196.27 L93.52 196.92 L90.69 197.51 L87.85 198.08 L85.01 198.62 L82.18 199.1 L79.34 199.49 L76.5 199.8 L73.67 200.08 L70.83 200.3 L67.99 200.45 L65.16 200.53 L62.32 200.6 L59.48 200.66 L56.65 200.69 L53.81 200.72 L50.97 200.73 L48.14 200.75 L45.3 200.76 Z" fill="url(#g4)" fill-opacity="0.4"/>
</g>
<rect x="102.3" y="20.6" width="113.2" height="78" fill="#fff"/>
<g clip-path="url(#c5)">
<path d="M102.8 99.31 L105.03 95.72 L107.26 92.12 L109.49 88.74 L112.42 84.7 L115.34 80.92 L118.26 77.29 L121.14 73.79 L124.02 70.42 L126.9 67.24 L129.76 64.3 L132.61 61.51 L135.47 58.78 L138.32 56.05 L141.16 53.36 L144.01 50.85 L146.86 48.53 L149.72 46.36 L152.57 44.33 L155.45 42.46 L158.32 40.71 L161.2 39.05 L164.11 37.45 L167.02 35.94 L169.93 34.47 L172.87 33 L175.81 31.58 L178.75 30.24 L181.68 29 L184.62 27.84 L187.56 26.71 L190.49 25.64 L193.43 24.6 L196.37 23.54 L198.72 22.66 L201.07 21.76 L203.41 20.9 L206.35 19.88 L209.29 18.89 L212.23 17.9 L217.96 24.52 L216.64 24.87 L215.32 25.22 L212.9 25.93 L210.47 26.68 L208.05 27.45 L205.63 28.22 L202.69 29.15 L199.75 30.08 L196.82 31.04 L193.88 32.01 L190.94 32.99 L188.01 34.04 L185.07 35.15 L182.13 36.33 L179.2 37.56 L176.26 38.84 L173.32 40.19 L170.38 41.61 L167.48 43.12 L164.57 44.71 L161.66 46.37 L158.79 48.04 L155.92 49.79 L153.06 51.66 L150.22 53.69 L147.38 55.88 L144.53 58.18 L141.7 60.58 L138.87 63.1 L136.03 65.75 L133.19 68.54 L130.34 71.47 L127.5 74.56 L124.62 77.91 L121.75 81.46 L118.88 85.14 L116.47 88.34 L114.06 91.65 L111.65 95.01 L109.24 98.35 Z" fill="#bfe9f8"/>
<path d="M103.25 99.76 L105.48 96.17 L107.71 92.57 L109.94 89.19 L112.87 85.15 L115.79 81.37 L118.71 77.74 L121.59 74.24 L124.47 70.87 L127.35 67.69 L130.21 64.75 L133.06 61.96 L135.92 59.23 L138.77 56.5 L141.61 53.81 L144.46 51.3 L147.31 48.98 L150.17 46.81 L153.02 44.78 L155.9 42.91 L158.77 41.16 L161.65 39.5 L164.56 37.9 L167.47 36.39 L170.38 34.92 L173.32 33.45 L176.26 32.03 L179.2 30.69 L182.13 29.45 L185.07 28.29 L188.01 27.16 L190.94 26.09 L193.88 25.05 L196.82 23.99 L199.17 23.11 L201.52 22.21 L203.86 21.35 L206.8 20.33 L209.74 19.34 L212.68 18.35 L218.36 24.92 L217.04 25.27 L215.72 25.62 L213.3 26.33 L210.87 27.08 L208.45 27.85 L206.03 28.62 L203.09 29.55 L200.15 30.48 L197.22 31.44 L194.28 32.41 L191.34 33.39 L188.41 34.44 L185.47 35.55 L182.53 36.73 L179.6 37.96 L176.66 39.24 L173.72 40.59 L170.78 42.01 L167.88 43.52 L164.97 45.11 L162.06 46.77 L159.19 48.44 L156.32 50.19 L153.46 52.06 L150.62 54.09 L147.78 56.28 L144.93 58.58 L142.1 60.98 L139.27 63.5 L136.43 66.15 L133.59 68.94 L130.74 71.87 L127.9 74.96 L125.02 78.31 L122.15 81.86 L119.28 85.54 L116.87 88.74 L114.46 92.05 L112.05 95.41 L109.64 98.75 Z" fill="#f3b6c0"/>
<path d="M103.25 99.76 L105.48 96.17 L107.71 92.57 L109.94 89.19 L112.87 85.15 L115.79 81.37 L118.71 77.74 L121.59 74.24 L124.47 70.87 L127.35 67.69 L130.21 64.75 L133.06 61.96 L135.92 59.23 L138.77 56.5 L141.61 53.81 L144.46 51.3 L147.31 48.98 L150.17 46.81 L153.02 44.78 L155.9 42.91 L158.77 41.16 L161.65 39.5 L164.56 37.9 L167.47 36.39 L170.38 34.92 L173.32 33.45 L176.26 32.03 L179.2 30.69 L182.13 29.45 L185.07 28.29 L188.01 27.16 L190.94 26.09 L193.88 25.05 L196.82 23.99 L199.17 23.11 L201.52 22.21 L203.86 21.35 L206.8 20.33 L209.74 19.34 L212.68 18.35 L217.96 24.52 L216.64 24.87 L215.32 25.22 L212.9 25.93 L210.47 26.68 L208.05 27.45 L205.63 28.22 L202.69 29.15 L199.75 30.08 L196.82 31.04 L193.88 32.01 L190.94 32.99 L188.01 34.04 L185.07 35.15 L182.13 36.33 L179.2 37.56 L176.26 38.84 L173.32 40.19 L170.38 41.61 L167.48 43.12 L164.57 44.71 L161.66 46.37 L158.79 48.04 L155.92 49.79 L153.06 51.66 L150.22 53.69 L147.38 55.88 L144.53 58.18 L141.7 60.58 L138.87 63.1 L136.03 65.75 L133.19 68.54 L130.34 71.47 L127.5 74.56 L124.62 77.91 L121.75 81.46 L118.88 85.14 L116.47 88.34 L114.06 91.65 L111.65 95.01 L109.24 98.35 Z" fill="url(#g6)"/>
</g>
<rect x="102.3" y="20.6" width="113.2" height="78" fill="none" stroke="#1c1c1c" stroke-width="1.0"/>
<path d="M130.6 98.6v-4 M130.6 20.6v4 M158.9 98.6v-4 M158.9 20.6v4 M187.2 98.6v-4 M187.2 20.6v4 M116.45 98.6v-2.8 M116.45 20.6v2.8 M144.75 98.6v-2.8 M144.75 20.6v2.8 M173.05 98.6v-2.8 M173.05 20.6v2.8 M201.35 98.6v-2.8 M201.35 20.6v2.8 " stroke="#1c1c1c" stroke-width="0.9" fill="none"/>
<path d="M102.3 59.6h4.6 M215.5 59.6h-4.6 M102.3 86.86h2.6 M215.5 86.86h-2.6 M102.3 79.99h2.6 M215.5 79.99h-2.6 M102.3 75.12h2.6 M215.5 75.12h-2.6 M102.3 71.34h2.6 M215.5 71.34h-2.6 M102.3 68.25h2.6 M215.5 68.25h-2.6 M102.3 65.64h2.6 M215.5 65.64h-2.6 M102.3 63.38h2.6 M215.5 63.38h-2.6 M102.3 61.38h2.6 M215.5 61.38h-2.6 M102.3 47.86h2.6 M215.5 47.86h-2.6 M102.3 40.99h2.6 M215.5 40.99h-2.6 M102.3 36.12h2.6 M215.5 36.12h-2.6 M102.3 32.34h2.6 M215.5 32.34h-2.6 M102.3 29.25h2.6 M215.5 29.25h-2.6 M102.3 26.64h2.6 M215.5 26.64h-2.6 M102.3 24.38h2.6 M215.5 24.38h-2.6 M102.3 22.38h2.6 M215.5 22.38h-2.6 " stroke="#1c1c1c" stroke-width="0.9" fill="none"/>
<text x="102.9" y="109.9" font-size="10.8" text-anchor="middle" >100</text>
<text x="130.6" y="109.9" font-size="10.8" text-anchor="middle" >200</text>
<text x="158.9" y="109.9" font-size="10.8" text-anchor="middle" >300</text>
<text x="187.2" y="109.9" font-size="10.8" text-anchor="middle" >400</text>
<text x="215.5" y="109.9" font-size="10.8" text-anchor="middle" >500</text>
<text x="94.6" y="103.2" font-size="10.8" text-anchor="end" >10</text>
<text x="94.3" y="98.4" font-size="6.4" text-anchor="start" >0</text>
<text x="94.6" y="64.2" font-size="10.8" text-anchor="end" >10</text>
<text x="94.3" y="59.4" font-size="6.4" text-anchor="start" >1</text>
<text x="94.6" y="25.2" font-size="10.8" text-anchor="end" >10</text>
<text x="94.3" y="20.4" font-size="6.4" text-anchor="start" >2</text>
<path d="M290 185.6H347.5V146.5H349.2V187.5H290Z" fill="#6466b4"/>
<rect x="288.2" y="144.3" width="59.3" height="41.3" fill="#fff" stroke="#d8d8d8" stroke-width="0.6"/>
<rect x="289.6" y="146.8" width="23.9" height="10.9" fill="url(#g7)" fill-opacity="0.5"/>
<text x="316.8" y="156.15" font-size="10.4" text-anchor="start" >VRE</text>
<rect x="289.6" y="159.5" width="23.9" height="11.7" fill="url(#g8)" fill-opacity="0.5"/>
<text x="316.8" y="169.25" font-size="10.4" text-anchor="start" >MRE</text>
<rect x="289.6" y="173" width="23.9" height="11.2" fill="url(#g9)" fill-opacity="0.4"/>
<text x="316.8" y="182.5" font-size="10.4" text-anchor="start" >MRE2</text>
<rect x="434.5" y="5.5" width="318" height="196" fill="none" stroke="#1c1c1c" stroke-width="1.0"/>
<path d="M457.21 201.5v-4.6 M457.21 5.5v4.6 M502.64 201.5v-4.6 M502.64 5.5v4.6 M548.07 201.5v-4.6 M548.07 5.5v4.6 M593.5 201.5v-4.6 M593.5 5.5v4.6 M638.93 201.5v-4.6 M638.93 5.5v4.6 M684.36 201.5v-4.6 M684.36 5.5v4.6 M729.79 201.5v-4.6 M729.79 5.5v4.6 M445.86 201.5v-3.2 M445.86 5.5v3.2 M468.57 201.5v-3.2 M468.57 5.5v3.2 M479.93 201.5v-3.2 M479.93 5.5v3.2 M491.29 201.5v-3.2 M491.29 5.5v3.2 M514 201.5v-3.2 M514 5.5v3.2 M525.36 201.5v-3.2 M525.36 5.5v3.2 M536.71 201.5v-3.2 M536.71 5.5v3.2 M559.43 201.5v-3.2 M559.43 5.5v3.2 M570.79 201.5v-3.2 M570.79 5.5v3.2 M582.14 201.5v-3.2 M582.14 5.5v3.2 M604.86 201.5v-3.2 M604.86 5.5v3.2 M616.21 201.5v-3.2 M616.21 5.5v3.2 M627.57 201.5v-3.2 M627.57 5.5v3.2 M650.29 201.5v-3.2 M650.29 5.5v3.2 M661.64 201.5v-3.2 M661.64 5.5v3.2 M673 201.5v-3.2 M673 5.5v3.2 M695.71 201.5v-3.2 M695.71 5.5v3.2 M707.07 201.5v-3.2 M707.07 5.5v3.2 M718.43 201.5v-3.2 M718.43 5.5v3.2 M741.14 201.5v-3.2 M741.14 5.5v3.2 " stroke="#1c1c1c" stroke-width="0.9" fill="none"/>
<path d="M434.5 152.5h4.6 M752.5 152.5h-4.6 M434.5 103.5h4.6 M752.5 103.5h-4.6 M434.5 54.5h4.6 M752.5 54.5h-4.6 M434.5 189.25h3.2 M752.5 189.25h-3.2 M434.5 177h3.2 M752.5 177h-3.2 M434.5 164.75h3.2 M752.5 164.75h-3.2 M434.5 140.25h3.2 M752.5 140.25h-3.2 M434.5 128h3.2 M752.5 128h-3.2 M434.5 115.75h3.2 M752.5 115.75h-3.2 M434.5 91.25h3.2 M752.5 91.25h-3.2 M434.5 79h3.2 M752.5 79h-3.2 M434.5 66.75h3.2 M752.5 66.75h-3.2 M434.5 42.25h3.2 M752.5 42.25h-3.2 M434.5 30h3.2 M752.5 30h-3.2 M434.5 17.75h3.2 M752.5 17.75h-3.2 " stroke="#1c1c1c" stroke-width="0.9" fill="none"/>
<text x="457.21" y="215.2" font-size="10.8" text-anchor="middle" >200</text>
<text x="502.64" y="215.2" font-size="10.8" text-anchor="middle" >400</text>
<text x="548.07" y="215.2" font-size="10.8" text-anchor="middle" >600</text>
<text x="593.5" y="215.2" font-size="10.8" text-anchor="middle" >800</text>
<text x="638.93" y="215.2" font-size="10.8" text-anchor="middle" >1000</text>
<text x="684.36" y="215.2" font-size="10.8" text-anchor="middle" >1200</text>
<text x="729.79" y="215.2" font-size="10.8" text-anchor="middle" >1400</text>
<text x="428.7" y="205.3" font-size="10.8" text-anchor="end" >0</text>
<text x="428.7" y="156.3" font-size="10.8" text-anchor="end" >200</text>
<text x="428.7" y="107.3" font-size="10.8" text-anchor="end" >400</text>
<text x="428.7" y="58.3" font-size="10.8" text-anchor="end" >600</text>
<text x="428.7" y="9.3" font-size="10.8" text-anchor="end" >800</text>
<text x="590.9" y="233.7" font-size="11.7" text-anchor="middle" ><tspan font-style="italic">&#949;</tspan><tspan dx="1.5">[MeV fm</tspan><tspan dy="-4.2" font-size="8.4">-3</tspan><tspan dy="4.2">]</tspan></text>
<text transform="translate(400.8 103.5) rotate(-90)" font-size="11.7" text-anchor="middle"><tspan font-style="italic">P</tspan> [MeV fm<tspan dy="-4.2" font-size="8.4">-3</tspan><tspan dy="4.2">]</tspan></text>
<text x="447.3" y="28.6" font-size="11.7" text-anchor="start" font-weight="bold" fill="#1a1aa4" style="stroke:#1a1aa4">(b)</text>
<g clip-path="url(#c10)">
<path d="M434.5 201.5 L437.34 201.43 L440.18 201.37 L443.02 201.3 L445.86 201.21 L448.7 201.09 L451.54 200.94 L454.38 200.75 L457.21 200.52 L460.05 200.23 L462.89 199.83 L465.73 199.34 L468.57 198.74 L471.41 197.81 L474.25 196.51 L477.09 195.08 L479.93 193.79 L482.77 192.71 L485.61 191.69 L488.45 190.67 L491.29 189.58 L494.12 188.39 L496.96 187.15 L499.8 185.85 L502.64 184.52 L505.48 183.14 L508.32 181.71 L511.16 180.23 L514 178.73 L516.84 177.18 L519.68 175.59 L522.52 173.97 L525.36 172.31 L528.2 170.62 L531.04 168.9 L533.88 167.14 L536.71 165.36 L539.55 163.54 L542.39 161.7 L545.23 159.83 L548.07 157.94 L550.91 156.03 L553.75 154.08 L556.59 152.12 L559.43 150.13 L562.27 148.13 L565.11 146.1 L567.95 144.06 L570.79 142 L573.62 139.92 L576.46 137.82 L579.3 135.7 L582.14 133.57 L584.98 131.43 L587.82 129.27 L590.66 127.1 L593.5 124.91 L596.34 122.72 L599.18 120.51 L602.02 118.28 L604.86 116.05 L607.7 113.81 L610.54 111.56 L613.38 109.29 L616.21 107.02 L619.05 104.74 L621.89 102.45 L624.73 100.15 L627.57 97.85 L630.41 95.54 L633.25 93.22 L636.09 90.89 L638.93 88.56 L641.77 86.22 L644.61 83.88 L647.45 81.53 L650.29 79.17 L653.12 76.81 L655.96 74.45 L658.8 72.08 L661.64 69.71 L664.48 67.34 L667.32 64.96 L670.16 62.58 L673 60.2 L675.84 57.82 L678.68 55.43 L681.52 53.05 L684.36 50.66 L687.2 48.27 L690.04 45.88 L692.88 43.5 L695.71 41.11 L698.55 38.72 L701.39 36.34 L704.23 33.96 L707.07 31.58 L709.91 29.2 L712.75 26.83 L715.59 24.46 L718.43 22.1 L721.27 19.74 L724.11 17.39 L726.95 15.04 L729.79 12.71 L732.62 10.38 L735.46 8.06 L738.3 5.74 L741.14 3.44 L743.98 1.15 L746.82 -1.13 L749.66 -3.4 L752.5 -5.65 L755.34 -7.88 L758.18 -10.09 L761.02 -12.3 L763.86 -14.51 L763.86 36.15 L761.02 38.47 L758.18 40.8 L755.34 43.11 L752.5 45.41 L749.66 47.67 L746.82 49.91 L743.98 52.14 L741.14 54.35 L738.3 56.55 L735.46 58.72 L732.62 60.88 L729.79 63.03 L726.95 65.16 L724.11 67.28 L721.27 69.38 L718.43 71.47 L715.59 73.55 L712.75 75.62 L709.91 77.67 L707.07 79.71 L704.23 81.75 L701.39 83.79 L698.55 85.8 L695.71 87.77 L692.88 89.7 L690.04 91.59 L687.2 93.46 L684.36 95.33 L681.52 97.19 L678.68 99.05 L675.84 100.9 L673 102.74 L670.16 104.57 L667.32 106.39 L664.48 108.21 L661.64 110.01 L658.8 111.81 L655.96 113.6 L653.12 115.39 L650.29 117.16 L647.45 118.93 L644.61 120.69 L641.77 122.44 L638.93 124.18 L636.09 125.92 L633.25 127.64 L630.41 129.36 L627.57 131.07 L624.73 132.77 L621.89 134.46 L619.05 136.15 L616.21 137.82 L613.38 139.48 L610.54 141.14 L607.7 142.78 L604.86 144.41 L602.02 146.04 L599.18 147.65 L596.34 149.25 L593.5 150.84 L590.66 152.41 L587.82 153.98 L584.98 155.53 L582.14 157.07 L579.3 158.59 L576.46 160.1 L573.62 161.6 L570.79 163.07 L567.95 164.54 L565.11 165.99 L562.27 167.42 L559.43 168.83 L556.59 170.22 L553.75 171.6 L550.91 172.96 L548.07 174.29 L545.23 175.6 L542.39 176.9 L539.55 178.17 L536.71 179.42 L533.88 180.64 L531.04 181.84 L528.2 183.02 L525.36 184.17 L522.52 185.29 L519.68 186.38 L516.84 187.45 L514 188.48 L511.16 189.49 L508.32 190.46 L505.48 191.41 L502.64 192.31 L499.8 193.18 L496.96 194.03 L494.12 194.83 L491.29 195.59 L488.45 196.31 L485.61 197 L482.77 197.65 L479.93 198.25 L477.09 198.82 L474.25 199.36 L471.41 199.84 L468.57 200.22 L465.73 200.54 L462.89 200.81 L460.05 201.04 L457.21 201.18 L454.38 201.27 L451.54 201.34 L448.7 201.39 L445.86 201.43 L443.02 201.45 L440.18 201.47 L437.34 201.48 L434.5 201.5 Z" fill="url(#g11)" fill-opacity="0.5"/>
<path d="M434.5 201.5 L437.34 201.43 L440.18 201.37 L443.02 201.3 L445.86 201.21 L448.7 201.09 L451.54 200.94 L454.38 200.75 L457.21 200.52 L460.05 200.22 L462.89 199.82 L465.73 199.32 L468.57 198.74 L471.41 197.95 L474.25 196.9 L477.09 195.75 L479.93 194.65 L482.77 193.62 L485.61 192.6 L488.45 191.54 L491.29 190.43 L494.12 189.25 L496.96 188 L499.8 186.71 L502.64 185.37 L505.48 184 L508.32 182.57 L511.16 181.09 L514 179.58 L516.84 178.04 L519.68 176.45 L522.52 174.82 L525.36 173.17 L528.2 171.48 L531.04 169.75 L533.88 168 L536.71 166.21 L539.55 164.4 L542.39 162.56 L545.23 160.69 L548.07 158.8 L550.91 156.88 L553.75 154.94 L556.59 152.98 L559.43 150.99 L562.27 148.99 L565.11 146.96 L567.95 144.92 L570.79 142.85 L573.62 140.77 L576.46 138.68 L579.3 136.56 L582.14 134.43 L584.98 132.29 L587.82 130.13 L590.66 127.96 L593.5 125.77 L596.34 123.57 L599.18 121.36 L602.02 119.14 L604.86 116.91 L607.7 114.67 L610.54 112.41 L613.38 110.15 L616.21 107.88 L619.05 105.6 L621.89 103.31 L624.73 101.01 L627.57 98.71 L630.41 96.39 L633.25 94.07 L636.09 91.75 L638.93 89.42 L641.77 87.08 L644.61 84.73 L647.45 82.38 L650.29 80.03 L653.12 77.67 L655.96 75.31 L658.8 72.94 L661.64 70.57 L664.48 68.2 L667.32 65.82 L670.16 63.44 L673 61.06 L675.84 58.68 L678.68 56.29 L681.52 53.9 L684.36 51.52 L687.2 49.13 L690.04 46.74 L692.88 44.35 L695.71 41.97 L698.55 39.58 L701.39 37.2 L704.23 34.82 L707.07 32.44 L709.91 30.06 L712.75 27.69 L715.59 25.32 L718.43 22.96 L721.27 20.6 L724.11 18.25 L726.95 15.9 L729.79 13.56 L732.62 11.24 L735.46 8.91 L738.3 6.6 L741.14 4.3 L743.98 2.01 L746.82 -0.27 L749.66 -2.54 L752.5 -4.79 L755.34 -7.02 L758.18 -9.24 L761.02 -11.44 L763.86 -13.65 L763.86 37.38 L761.02 39.7 L758.18 42.02 L755.34 44.34 L752.5 46.63 L749.66 48.9 L746.82 51.14 L743.98 53.37 L741.14 55.58 L738.3 57.77 L735.46 59.95 L732.62 62.11 L729.79 64.25 L726.95 66.39 L724.11 68.5 L721.27 70.61 L718.43 72.7 L715.59 74.78 L712.75 76.84 L709.91 78.9 L707.07 80.94 L704.23 82.98 L701.39 85.01 L698.55 87.02 L695.71 89 L692.88 90.92 L690.04 92.81 L687.2 94.69 L684.36 96.55 L681.52 98.42 L678.68 100.28 L675.84 102.12 L673 103.96 L670.16 105.79 L667.32 107.62 L664.48 109.43 L661.64 111.24 L658.8 113.04 L655.96 114.83 L653.12 116.61 L650.29 118.39 L647.45 120.15 L644.61 121.91 L641.77 123.66 L638.93 125.41 L636.09 127.14 L633.25 128.87 L630.41 130.59 L627.57 132.29 L624.73 134 L621.89 135.69 L619.05 137.37 L616.21 139.04 L613.38 140.71 L610.54 142.36 L607.7 144 L604.86 145.64 L602.02 147.26 L599.18 148.87 L596.34 150.47 L593.5 152.06 L590.66 153.64 L587.82 155.2 L584.98 156.75 L582.14 158.29 L579.3 159.81 L576.46 161.33 L573.62 162.82 L570.79 164.3 L567.95 165.76 L565.11 167.21 L562.27 168.64 L559.43 170.05 L556.59 171.45 L553.75 172.82 L550.91 174.18 L548.07 175.52 L545.23 176.83 L542.39 178.12 L539.55 179.4 L536.71 180.64 L533.88 181.87 L531.04 183.07 L528.2 184.25 L525.36 185.39 L522.52 186.51 L519.68 187.61 L516.84 188.68 L514 189.71 L511.16 190.71 L508.32 191.69 L505.48 192.63 L502.64 193.54 L499.8 194.41 L496.96 195.25 L494.12 196.05 L491.29 196.81 L488.45 197.59 L485.61 198.37 L482.77 199.03 L479.93 199.47 L477.09 199.72 L474.25 199.89 L471.41 200.04 L468.57 200.22 L465.73 200.47 L462.89 200.76 L460.05 201.02 L457.21 201.18 L454.38 201.27 L451.54 201.34 L448.7 201.39 L445.86 201.43 L443.02 201.45 L440.18 201.47 L437.34 201.48 L434.5 201.5 Z" fill="url(#g12)" fill-opacity="0.5"/>
<path d="M434.5 201.5 L437.34 201.43 L440.18 201.37 L443.02 201.3 L445.86 201.21 L448.7 201.09 L451.54 200.94 L454.38 200.75 L457.21 200.52 L460.05 200.21 L462.89 199.79 L465.73 199.3 L468.57 198.74 L471.41 198.09 L474.25 197.29 L477.09 196.42 L479.93 195.5 L482.77 194.55 L485.61 193.51 L488.45 192.42 L491.29 191.29 L494.12 190.11 L496.96 188.86 L499.8 187.57 L502.64 186.23 L505.48 184.85 L508.32 183.42 L511.16 181.95 L514 180.44 L516.84 178.9 L519.68 177.31 L522.52 175.68 L525.36 174.03 L528.2 172.34 L531.04 170.61 L533.88 168.85 L536.71 167.07 L539.55 165.26 L542.39 163.42 L545.23 161.55 L548.07 159.66 L550.91 157.74 L553.75 155.8 L556.59 153.83 L559.43 151.85 L562.27 149.85 L565.11 147.82 L567.95 145.77 L570.79 143.71 L573.62 141.63 L576.46 139.53 L579.3 137.42 L582.14 135.29 L584.98 133.15 L587.82 130.99 L590.66 128.81 L593.5 126.63 L596.34 124.43 L599.18 122.22 L602.02 120 L604.86 117.77 L607.7 115.53 L610.54 113.27 L613.38 111.01 L616.21 108.74 L619.05 106.46 L621.89 104.17 L624.73 101.87 L627.57 99.56 L630.41 97.25 L633.25 94.93 L636.09 92.61 L638.93 90.27 L641.77 87.94 L644.61 85.59 L647.45 83.24 L650.29 80.89 L653.12 78.53 L655.96 76.17 L658.8 73.8 L661.64 71.43 L664.48 69.06 L667.32 66.68 L670.16 64.3 L673 61.92 L675.84 59.53 L678.68 57.15 L681.52 54.76 L684.36 52.37 L687.2 49.99 L690.04 47.6 L692.88 45.21 L695.71 42.82 L698.55 40.44 L701.39 38.06 L704.23 35.67 L707.07 33.3 L709.91 30.92 L712.75 28.55 L715.59 26.18 L718.43 23.82 L721.27 21.46 L724.11 19.11 L726.95 16.76 L729.79 14.42 L732.62 12.09 L735.46 9.77 L738.3 7.46 L741.14 5.16 L743.98 2.87 L746.82 0.59 L749.66 -1.68 L752.5 -3.93 L755.34 -6.16 L758.18 -8.38 L761.02 -10.58 L763.86 -12.79 L763.86 36.15 L761.02 38.47 L758.18 40.8 L755.34 43.11 L752.5 45.41 L749.66 47.67 L746.82 49.91 L743.98 52.14 L741.14 54.35 L738.3 56.55 L735.46 58.72 L732.62 60.88 L729.79 63.03 L726.95 65.16 L724.11 67.28 L721.27 69.38 L718.43 71.47 L715.59 73.55 L712.75 75.62 L709.91 77.67 L707.07 79.71 L704.23 81.75 L701.39 83.79 L698.55 85.8 L695.71 87.77 L692.88 89.7 L690.04 91.59 L687.2 93.46 L684.36 95.33 L681.52 97.19 L678.68 99.05 L675.84 100.9 L673 102.74 L670.16 104.57 L667.32 106.39 L664.48 108.21 L661.64 110.01 L658.8 111.81 L655.96 113.6 L653.12 115.39 L650.29 117.16 L647.45 118.93 L644.61 120.69 L641.77 122.44 L638.93 124.18 L636.09 125.92 L633.25 127.64 L630.41 129.36 L627.57 131.07 L624.73 132.77 L621.89 134.46 L619.05 136.15 L616.21 137.82 L613.38 139.48 L610.54 141.14 L607.7 142.78 L604.86 144.41 L602.02 146.04 L599.18 147.65 L596.34 149.25 L593.5 150.84 L590.66 152.41 L587.82 153.98 L584.98 155.53 L582.14 157.07 L579.3 158.59 L576.46 160.1 L573.62 161.6 L570.79 163.07 L567.95 164.54 L565.11 165.99 L562.27 167.42 L559.43 168.83 L556.59 170.22 L553.75 171.6 L550.91 172.96 L548.07 174.29 L545.23 175.6 L542.39 176.9 L539.55 178.17 L536.71 179.42 L533.88 180.64 L531.04 181.84 L528.2 183.02 L525.36 184.17 L522.52 185.29 L519.68 186.38 L516.84 187.45 L514 188.48 L511.16 189.49 L508.32 190.46 L505.48 191.41 L502.64 192.31 L499.8 193.18 L496.96 194.03 L494.12 194.83 L491.29 195.59 L488.45 196.31 L485.61 197 L482.77 197.65 L479.93 198.25 L477.09 198.82 L474.25 199.36 L471.41 199.84 L468.57 200.22 L465.73 200.54 L462.89 200.81 L460.05 201.04 L457.21 201.18 L454.38 201.27 L451.54 201.34 L448.7 201.39 L445.86 201.43 L443.02 201.45 L440.18 201.47 L437.34 201.48 L434.5 201.5 Z" fill="url(#g13)" fill-opacity="0.4"/>
</g>
<rect x="491.5" y="20.6" width="113.2" height="78" fill="#fff"/>
<g clip-path="url(#c14)">
<path d="M491.21 99.41 L493.54 95.48 L495.86 91.55 L498.18 87.96 L500.67 84.59 L503.16 81.5 L505.64 78.55 L508.13 75.62 L511.04 72.15 L513.94 68.75 L516.85 65.58 L519.71 62.72 L522.57 60.04 L525.43 57.47 L528.26 55.01 L531.09 52.65 L533.92 50.42 L536.75 48.31 L539.58 46.3 L542.41 44.43 L545.26 42.69 L548.1 41.06 L550.95 39.5 L553.83 37.97 L556.72 36.51 L559.6 35.09 L562.53 33.69 L565.46 32.33 L568.4 31.04 L571.33 29.81 L574.27 28.63 L577.21 27.52 L580.14 26.48 L583.08 25.5 L586.02 24.52 L588.95 23.51 L591.89 22.51 L594.83 21.52 L597.76 20.57 L600.7 19.64 L603.64 18.7 L606.72 25.4 L605.58 25.75 L604.43 26.11 L601.92 26.86 L599.41 27.61 L596.9 28.35 L594.39 29.1 L591.45 29.96 L588.51 30.83 L585.58 31.74 L582.64 32.75 L579.7 33.81 L576.77 34.92 L573.83 36.04 L570.89 37.2 L567.95 38.44 L565.02 39.78 L562.08 41.21 L559.14 42.67 L556.21 44.13 L553.27 45.64 L550.33 47.25 L547.4 49.02 L544.46 50.91 L541.52 52.89 L539.24 54.47 L536.96 56.11 L534.68 57.81 L532.4 59.59 L530.02 61.53 L527.64 63.56 L525.26 65.68 L522.87 67.87 L520.48 70.15 L518.08 72.52 L515.68 74.99 L513.28 77.56 L510.7 80.43 L508.12 83.41 L505.54 86.56 L502.97 89.89 L500 94.19 L497.03 98.7 Z" fill="#9fdcec"/>
<path d="M492.8 99.41 L495.12 95.48 L497.44 91.55 L499.77 87.96 L502.25 84.6 L504.74 81.51 L507.23 78.57 L509.72 75.62 L512.57 72.17 L515.42 68.78 L518.27 65.58 L521.01 62.73 L523.74 60.05 L526.48 57.47 L529.18 55.01 L531.87 52.65 L534.57 50.42 L537.31 48.3 L540.05 46.29 L542.79 44.43 L545.63 42.68 L548.46 41.05 L551.3 39.5 L554.18 37.97 L557.07 36.51 L559.95 35.09 L562.88 33.69 L565.82 32.33 L568.75 31.04 L571.68 29.81 L574.62 28.63 L577.56 27.52 L580.5 26.48 L583.43 25.5 L586.37 24.52 L589.31 23.51 L592.24 22.51 L595.18 21.52 L598.12 20.57 L601.05 19.64 L603.99 18.7 L607.16 25.4 L606.02 25.75 L604.87 26.11 L602.36 26.86 L599.85 27.61 L597.34 28.35 L594.83 29.1 L591.89 29.96 L588.95 30.83 L586.02 31.74 L583.08 32.75 L580.14 33.81 L577.21 34.92 L574.27 36.04 L571.33 37.2 L568.4 38.44 L565.46 39.78 L562.52 41.21 L559.58 42.67 L556.65 44.13 L553.71 45.64 L550.77 47.25 L547.84 49.01 L544.9 50.9 L541.96 52.89 L539.03 54.98 L536.09 57.21 L533.15 59.59 L530.22 62.17 L527.28 64.95 L524.34 67.87 L521.41 70.94 L518.47 74.18 L515.53 77.56 L513.08 80.47 L510.63 83.48 L508.18 86.61 L505.73 89.89 L502.79 94.21 L499.85 98.7 Z" fill="#eaa4b8"/>
<path d="M492.8 99.41 L495.12 95.48 L497.44 91.55 L499.77 87.96 L502.25 84.6 L504.74 81.51 L507.23 78.57 L509.72 75.62 L512.57 72.17 L515.42 68.78 L518.27 65.58 L521.01 62.73 L523.74 60.05 L526.48 57.47 L529.18 55.01 L531.87 52.65 L534.57 50.42 L537.31 48.3 L540.05 46.29 L542.79 44.43 L545.63 42.68 L548.46 41.05 L551.3 39.5 L554.18 37.97 L557.07 36.51 L559.95 35.09 L562.88 33.69 L565.82 32.33 L568.75 31.04 L571.68 29.81 L574.62 28.63 L577.56 27.52 L580.5 26.48 L583.43 25.5 L586.37 24.52 L589.31 23.51 L592.24 22.51 L595.18 21.52 L598.12 20.57 L601.05 19.64 L603.99 18.7 L606.72 25.4 L605.58 25.75 L604.43 26.11 L601.92 26.86 L599.41 27.61 L596.9 28.35 L594.39 29.1 L591.45 29.96 L588.51 30.83 L585.58 31.74 L582.64 32.75 L579.7 33.81 L576.77 34.92 L573.83 36.04 L570.89 37.2 L567.95 38.44 L565.02 39.78 L562.08 41.21 L559.14 42.67 L556.21 44.13 L553.27 45.64 L550.33 47.25 L547.4 49.02 L544.46 50.91 L541.52 52.89 L539.24 54.47 L536.96 56.11 L534.68 57.81 L532.4 59.59 L530.02 61.53 L527.64 63.56 L525.26 65.68 L522.87 67.87 L520.48 70.15 L518.08 72.52 L515.68 74.99 L513.28 77.56 L510.7 80.43 L508.12 83.41 L505.54 86.56 L502.97 89.89 L500 94.19 L497.03 98.7 Z" fill="url(#g15)"/>
</g>
<rect x="491.5" y="20.6" width="113.2" height="78" fill="none" stroke="#1c1c1c" stroke-width="1.0"/>
<path d="M519.8 98.6v-4 M519.8 20.6v4 M548.1 98.6v-4 M548.1 20.6v4 M576.4 98.6v-4 M576.4 20.6v4 M505.65 98.6v-2.8 M505.65 20.6v2.8 M533.95 98.6v-2.8 M533.95 20.6v2.8 M562.25 98.6v-2.8 M562.25 20.6v2.8 M590.55 98.6v-2.8 M590.55 20.6v2.8 " stroke="#1c1c1c" stroke-width="0.9" fill="none"/>
<path d="M491.5 59.6h4.6 M604.7 59.6h-4.6 M491.5 86.86h2.6 M604.7 86.86h-2.6 M491.5 79.99h2.6 M604.7 79.99h-2.6 M491.5 75.12h2.6 M604.7 75.12h-2.6 M491.5 71.34h2.6 M604.7 71.34h-2.6 M491.5 68.25h2.6 M604.7 68.25h-2.6 M491.5 65.64h2.6 M604.7 65.64h-2.6 M491.5 63.38h2.6 M604.7 63.38h-2.6 M491.5 61.38h2.6 M604.7 61.38h-2.6 M491.5 47.86h2.6 M604.7 47.86h-2.6 M491.5 40.99h2.6 M604.7 40.99h-2.6 M491.5 36.12h2.6 M604.7 36.12h-2.6 M491.5 32.34h2.6 M604.7 32.34h-2.6 M491.5 29.25h2.6 M604.7 29.25h-2.6 M491.5 26.64h2.6 M604.7 26.64h-2.6 M491.5 24.38h2.6 M604.7 24.38h-2.6 M491.5 22.38h2.6 M604.7 22.38h-2.6 " stroke="#1c1c1c" stroke-width="0.9" fill="none"/>
<text x="492.1" y="109.9" font-size="10.8" text-anchor="middle" >100</text>
<text x="519.8" y="109.9" font-size="10.8" text-anchor="middle" >200</text>
<text x="548.1" y="109.9" font-size="10.8" text-anchor="middle" >300</text>
<text x="576.4" y="109.9" font-size="10.8" text-anchor="middle" >400</text>
<text x="604.7" y="109.9" font-size="10.8" text-anchor="middle" >500</text>
<text x="483.8" y="103.2" font-size="10.8" text-anchor="end" >10</text>
<text x="483.5" y="98.4" font-size="6.4" text-anchor="start" >0</text>
<text x="483.8" y="64.2" font-size="10.8" text-anchor="end" >10</text>
<text x="483.5" y="59.4" font-size="6.4" text-anchor="start" >1</text>
<text x="483.8" y="25.2" font-size="10.8" text-anchor="end" >10</text>
<text x="483.5" y="20.4" font-size="6.4" text-anchor="start" >2</text>
<path d="M680.2 185.6H736.2V146.5H737.9V187.5H680.2Z" fill="#6466b4"/>
<rect x="678.4" y="144.3" width="57.8" height="41.3" fill="#fff" stroke="#d8d8d8" stroke-width="0.6"/>
<rect x="679.8" y="146.8" width="23.9" height="10.9" fill="url(#g16)" fill-opacity="0.5"/>
<text x="707" y="156.15" font-size="10.4" text-anchor="start" >VRE</text>
<rect x="679.8" y="159.5" width="23.9" height="11.7" fill="url(#g17)" fill-opacity="0.5"/>
<text x="707" y="169.25" font-size="10.4" text-anchor="start" >VRR</text>
<rect x="679.8" y="173" width="23.9" height="11.2" fill="url(#g18)" fill-opacity="0.4"/>
<text x="707" y="182.5" font-size="10.4" text-anchor="start" >VRR2</text>
<rect x="45.3" y="244.8" width="317.7" height="195.7" fill="none" stroke="#1c1c1c" stroke-width="1.0"/>
<path d="M71.78 440.5v-4.6 M71.78 244.8v4.6 M124.73 440.5v-4.6 M124.73 244.8v4.6 M177.68 440.5v-4.6 M177.68 244.8v4.6 M230.62 440.5v-4.6 M230.62 244.8v4.6 M283.57 440.5v-4.6 M283.57 244.8v4.6 M336.52 440.5v-4.6 M336.52 244.8v4.6 M58.54 440.5v-3.2 M58.54 244.8v3.2 M85.01 440.5v-3.2 M85.01 244.8v3.2 M98.25 440.5v-3.2 M98.25 244.8v3.2 M111.49 440.5v-3.2 M111.49 244.8v3.2 M137.96 440.5v-3.2 M137.96 244.8v3.2 M151.2 440.5v-3.2 M151.2 244.8v3.2 M164.44 440.5v-3.2 M164.44 244.8v3.2 M190.91 440.5v-3.2 M190.91 244.8v3.2 M204.15 440.5v-3.2 M204.15 244.8v3.2 M217.39 440.5v-3.2 M217.39 244.8v3.2 M243.86 440.5v-3.2 M243.86 244.8v3.2 M257.1 440.5v-3.2 M257.1 244.8v3.2 M270.34 440.5v-3.2 M270.34 244.8v3.2 M296.81 440.5v-3.2 M296.81 244.8v3.2 M310.05 440.5v-3.2 M310.05 244.8v3.2 M323.29 440.5v-3.2 M323.29 244.8v3.2 M349.76 440.5v-3.2 M349.76 244.8v3.2 " stroke="#1c1c1c" stroke-width="0.9" fill="none"/>
<path d="M45.3 401.36h4.6 M363 401.36h-4.6 M45.3 362.22h4.6 M363 362.22h-4.6 M45.3 323.08h4.6 M363 323.08h-4.6 M45.3 283.94h4.6 M363 283.94h-4.6 M45.3 430.72h3.2 M363 430.72h-3.2 M45.3 420.93h3.2 M363 420.93h-3.2 M45.3 411.14h3.2 M363 411.14h-3.2 M45.3 391.57h3.2 M363 391.57h-3.2 M45.3 381.79h3.2 M363 381.79h-3.2 M45.3 372h3.2 M363 372h-3.2 M45.3 352.44h3.2 M363 352.44h-3.2 M45.3 342.65h3.2 M363 342.65h-3.2 M45.3 332.87h3.2 M363 332.87h-3.2 M45.3 313.3h3.2 M363 313.3h-3.2 M45.3 303.51h3.2 M363 303.51h-3.2 M45.3 293.73h3.2 M363 293.73h-3.2 M45.3 274.15h3.2 M363 274.15h-3.2 M45.3 264.37h3.2 M363 264.37h-3.2 M45.3 254.59h3.2 M363 254.59h-3.2 " stroke="#1c1c1c" stroke-width="0.9" fill="none"/>
<text x="71.78" y="455.3" font-size="10.8" text-anchor="middle" >0.2</text>
<text x="124.73" y="455.3" font-size="10.8" text-anchor="middle" >0.4</text>
<text x="177.68" y="455.3" font-size="10.8" text-anchor="middle" >0.6</text>
<text x="230.62" y="455.3" font-size="10.8" text-anchor="middle" >0.8</text>
<text x="283.57" y="455.3" font-size="10.8" text-anchor="middle" >1.0</text>
<text x="336.52" y="455.3" font-size="10.8" text-anchor="middle" >1.2</text>
<text x="39.5" y="444.3" font-size="10.8" text-anchor="end" >0.02</text>
<text x="39.5" y="405.16" font-size="10.8" text-anchor="end" >0.06</text>
<text x="39.5" y="366.02" font-size="10.8" text-anchor="end" >0.10</text>
<text x="39.5" y="326.88" font-size="10.8" text-anchor="end" >0.14</text>
<text x="39.5" y="287.74" font-size="10.8" text-anchor="end" >0.18</text>
<text x="39.5" y="248.6" font-size="10.8" text-anchor="end" >0.22</text>
<text x="204.75" y="474" font-size="11.7" text-anchor="middle" ><tspan font-style="italic">n</tspan> [fm<tspan dy="-4.2" font-size="8.4">-3</tspan><tspan dy="4.2">]</tspan></text>
<text transform="translate(9.3 340.85) rotate(-90)" font-size="11.7" text-anchor="middle"><tspan font-style="italic">F</tspan><tspan dx="0.6" dy="4.4" font-size="8.8">p</tspan></text>
<text x="58.3" y="267.3" font-size="11.7" text-anchor="start" font-weight="bold" fill="#1a1aa4" style="stroke:#1a1aa4">(c)</text>
<text x="57.9" y="341.3" font-size="11.3" text-anchor="start" ><tspan font-style="italic">F</tspan><tspan dx="-1" dy="2.3" font-size="7">DU</tspan></text>
<g clip-path="url(#c19)">
<path d="M45.3 418.92 L47.94 415.41 L50.58 411.9 L53.22 408.51 L55.86 405.26 L58.5 402.12 L61.14 399.11 L63.78 396.24 L66.42 393.49 L69.06 390.87 L71.7 388.37 L74.34 385.98 L76.98 383.69 L79.62 381.51 L82.26 379.42 L84.9 377.42 L87.54 375.52 L90.18 373.69 L92.82 371.95 L95.46 370.27 L98.1 368.67 L100.74 367.14 L103.38 365.67 L106.02 364.26 L108.66 362.9 L111.3 361.61 L113.94 360.36 L116.58 359.16 L119.22 358.01 L121.86 356.91 L124.5 355.84 L127.13 354.82 L129.77 353.84 L132.41 352.89 L135.05 351.98 L137.69 351.1 L140.33 350.25 L142.97 349.43 L145.61 348.65 L148.25 347.89 L150.89 347.15 L153.53 346.45 L156.17 345.76 L158.81 345.1 L161.45 344.47 L164.09 343.85 L166.73 343.25 L169.37 342.68 L172.01 342.12 L174.65 341.58 L177.29 341.06 L179.93 340.56 L182.57 340.07 L185.21 339.59 L187.85 339.13 L190.49 338.69 L193.13 338.26 L195.77 337.84 L198.41 337.43 L201.05 337.04 L203.69 336.66 L206.33 336.29 L208.97 335.93 L211.61 335.58 L214.25 335.24 L216.89 334.91 L219.53 334.59 L222.17 334.28 L224.81 333.97 L227.45 333.68 L230.09 333.39 L232.73 333.11 L235.37 332.84 L238.01 332.58 L240.65 332.32 L243.29 332.07 L245.93 331.82 L248.57 331.58 L251.21 331.35 L253.85 331.13 L256.49 330.9 L259.13 330.69 L261.77 330.48 L264.41 330.27 L267.05 330.07 L269.69 329.87 L272.33 329.68 L274.97 329.49 L277.61 329.31 L280.25 329.13 L282.89 328.95 L285.53 328.78 L288.17 328.61 L290.8 328.45 L293.44 328.29 L296.08 328.13 L298.72 327.97 L301.36 327.82 L304 327.67 L306.64 327.52 L309.28 327.38 L311.92 327.24 L314.56 327.1 L317.2 326.96 L319.84 326.83 L322.48 326.7 L325.12 326.57 L327.76 326.44 L330.4 326.32 L333.04 326.19 L335.68 326.07 L338.32 325.95 L340.96 325.83 L343.6 325.72 L346.24 325.6 L348.88 325.49 L351.52 325.38 L354.16 325.27 L356.8 325.16 L359.44 325.05 L362.08 324.94 L364.72 324.84 L367.36 324.73 L370 324.63 L370 332.86 L367.36 333 L364.72 333.13 L362.08 333.27 L359.44 333.42 L356.8 333.58 L354.16 333.74 L351.52 333.91 L348.88 334.09 L346.24 334.27 L343.6 334.46 L340.96 334.66 L338.32 334.86 L335.68 335.07 L333.04 335.29 L330.4 335.51 L327.76 335.75 L325.12 335.99 L322.48 336.23 L319.84 336.49 L317.2 336.75 L314.56 337.02 L311.92 337.3 L309.28 337.58 L306.64 337.87 L304 338.17 L301.36 338.48 L298.72 338.8 L296.08 339.12 L293.44 339.46 L290.8 339.8 L288.17 340.15 L285.53 340.51 L282.89 340.88 L280.25 341.25 L277.61 341.64 L274.97 342.03 L272.33 342.43 L269.69 342.85 L267.05 343.27 L264.41 343.7 L261.77 344.14 L259.13 344.59 L256.49 345.05 L253.85 345.52 L251.21 345.99 L248.57 346.48 L245.93 346.98 L243.29 347.49 L240.65 348.01 L238.01 348.54 L235.37 349.08 L232.73 349.63 L230.09 350.19 L227.45 350.76 L224.81 351.35 L222.17 351.94 L219.53 352.55 L216.89 353.16 L214.25 353.79 L211.61 354.43 L208.97 355.08 L206.33 355.75 L203.69 356.42 L201.05 357.11 L198.41 357.81 L195.77 358.52 L193.13 359.24 L190.49 359.98 L187.85 360.73 L185.21 361.49 L182.57 362.27 L179.93 363.05 L177.29 363.85 L174.65 364.67 L172.01 365.5 L169.37 366.34 L166.73 367.19 L164.09 368.06 L161.45 368.94 L158.81 369.84 L156.17 370.75 L153.53 371.68 L150.89 372.62 L148.25 373.57 L145.61 374.54 L142.97 375.52 L140.33 376.52 L137.69 377.53 L135.05 378.56 L132.41 379.6 L129.77 380.66 L127.13 381.73 L124.5 382.82 L121.86 383.93 L119.22 385.05 L116.58 386.18 L113.94 387.33 L111.3 388.5 L108.66 389.68 L106.02 390.88 L103.38 392.1 L100.74 393.33 L98.1 394.58 L95.46 395.85 L92.82 397.13 L90.18 398.43 L87.54 399.75 L84.9 401.09 L82.26 402.45 L79.62 403.83 L76.98 405.23 L74.34 406.66 L71.7 408.12 L69.06 409.61 L66.42 411.13 L63.78 412.69 L61.14 414.3 L58.5 415.97 L55.86 417.7 L53.22 419.53 L50.58 421.5 L47.94 423.59 L45.3 425.68 Z" fill="url(#g20)" fill-opacity="0.5"/>
<path d="M45.3 418.17 L47.94 414.66 L50.58 411.15 L53.22 407.76 L55.86 404.51 L58.5 401.37 L61.14 398.36 L63.78 395.49 L66.42 392.74 L69.06 390.12 L71.7 387.61 L74.34 385.21 L76.98 382.96 L79.62 380.85 L82.26 378.87 L84.9 377 L87.54 375.24 L90.18 373.57 L92.82 371.96 L95.46 370.37 L98.1 368.83 L100.74 367.34 L103.38 365.88 L106.02 364.46 L108.66 363.1 L111.3 361.81 L113.94 360.56 L116.58 359.36 L119.22 358.21 L121.86 357.11 L124.5 356.04 L127.13 355.02 L129.77 354.04 L132.41 353.09 L135.05 352.18 L137.69 351.3 L140.33 350.45 L142.97 349.63 L145.61 348.85 L148.25 348.09 L150.89 347.35 L153.53 346.65 L156.17 345.96 L158.81 345.3 L161.45 344.67 L164.09 344.05 L166.73 343.45 L169.37 342.88 L172.01 342.32 L174.65 341.78 L177.29 341.26 L179.93 340.76 L182.57 340.27 L185.21 339.79 L187.85 339.33 L190.49 338.89 L193.13 338.46 L195.77 338.04 L198.41 337.63 L201.05 337.24 L203.69 336.86 L206.33 336.49 L208.97 336.13 L211.61 335.78 L214.25 335.44 L216.89 335.11 L219.53 334.79 L222.17 334.48 L224.81 334.17 L227.45 333.88 L230.09 333.59 L232.73 333.31 L235.37 333.04 L238.01 332.78 L240.65 332.52 L243.29 332.27 L245.93 332.02 L248.57 331.78 L251.21 331.55 L253.85 331.33 L256.49 331.1 L259.13 330.89 L261.77 330.68 L264.41 330.47 L267.05 330.27 L269.69 330.07 L272.33 329.88 L274.97 329.69 L277.61 329.51 L280.25 329.33 L282.89 329.15 L285.53 328.98 L288.17 328.81 L290.8 328.65 L293.44 328.49 L296.08 328.33 L298.72 328.17 L301.36 328.02 L304 327.87 L306.64 327.72 L309.28 327.58 L311.92 327.44 L314.56 327.3 L317.2 327.16 L319.84 327.03 L322.48 326.9 L325.12 326.77 L327.76 326.64 L330.4 326.52 L333.04 326.39 L335.68 326.27 L338.32 326.15 L340.96 326.03 L343.6 325.92 L346.24 325.8 L348.88 325.69 L351.52 325.58 L354.16 325.47 L356.8 325.36 L359.44 325.25 L362.08 325.14 L364.72 325.04 L367.36 324.93 L370 324.83 L370 333.56 L367.36 333.7 L364.72 333.83 L362.08 333.97 L359.44 334.12 L356.8 334.28 L354.16 334.44 L351.52 334.61 L348.88 334.79 L346.24 334.97 L343.6 335.16 L340.96 335.36 L338.32 335.56 L335.68 335.77 L333.04 335.99 L330.4 336.21 L327.76 336.45 L325.12 336.69 L322.48 336.93 L319.84 337.19 L317.2 337.45 L314.56 337.73 L311.92 338.02 L309.28 338.32 L306.64 338.63 L304 338.96 L301.36 339.29 L298.72 339.64 L296.08 340 L293.44 340.37 L290.8 340.75 L288.17 341.14 L285.53 341.54 L282.89 341.95 L280.25 342.36 L277.61 342.79 L274.97 343.23 L272.33 343.68 L269.69 344.13 L267.05 344.6 L264.41 345.07 L261.77 345.55 L259.13 346.04 L256.49 346.54 L253.85 347.04 L251.21 347.55 L248.57 348.07 L245.93 348.6 L243.29 349.13 L240.65 349.67 L238.01 350.22 L235.37 350.77 L232.73 351.33 L230.09 351.89 L227.45 352.46 L224.81 353.05 L222.17 353.64 L219.53 354.25 L216.89 354.86 L214.25 355.49 L211.61 356.13 L208.97 356.78 L206.33 357.45 L203.69 358.12 L201.05 358.81 L198.41 359.51 L195.77 360.22 L193.13 360.94 L190.49 361.68 L187.85 362.43 L185.21 363.19 L182.57 363.97 L179.93 364.75 L177.29 365.55 L174.65 366.37 L172.01 367.2 L169.37 368.04 L166.73 368.89 L164.09 369.76 L161.45 370.64 L158.81 371.54 L156.17 372.45 L153.53 373.38 L150.89 374.32 L148.25 375.27 L145.61 376.24 L142.97 377.22 L140.33 378.22 L137.69 379.23 L135.05 380.26 L132.41 381.3 L129.77 382.36 L127.13 383.43 L124.5 384.52 L121.86 385.63 L119.22 386.75 L116.58 387.88 L113.94 389.04 L111.3 390.21 L108.66 391.38 L106.02 392.54 L103.38 393.69 L100.74 394.84 L98.1 395.97 L95.46 397.1 L92.82 398.24 L90.18 399.39 L87.54 400.54 L84.9 401.72 L82.26 402.92 L79.62 404.14 L76.98 405.4 L74.34 406.69 L71.7 408.03 L69.06 409.42 L66.42 410.88 L63.78 412.41 L61.14 414 L58.5 415.66 L55.86 417.4 L53.22 419.23 L50.58 421.2 L47.94 423.29 L45.3 425.38 Z" fill="url(#g21)" fill-opacity="0.5"/>
<path d="M45.3 418.62 L47.94 415.11 L50.58 411.6 L53.22 408.21 L55.86 404.96 L58.5 401.82 L61.14 398.81 L63.78 395.94 L66.42 393.19 L69.06 390.57 L71.7 388.07 L74.34 385.68 L76.98 383.39 L79.62 381.2 L82.26 379.09 L84.9 377.04 L87.54 375.04 L90.18 373.08 L92.82 371.19 L95.46 369.36 L98.1 367.58 L100.74 365.88 L103.38 364.26 L106.02 362.7 L108.66 361.23 L111.3 359.87 L113.94 358.58 L116.58 357.36 L119.22 356.2 L121.86 355.1 L124.5 354.04 L127.13 353.02 L129.77 352.04 L132.41 351.09 L135.05 350.18 L137.69 349.3 L140.33 348.45 L142.97 347.63 L145.61 346.84 L148.25 346.09 L150.89 345.36 L153.53 344.65 L156.17 343.98 L158.81 343.34 L161.45 342.72 L164.09 342.13 L166.73 341.56 L169.37 341.01 L172.01 340.49 L174.65 339.98 L177.29 339.49 L179.93 339.01 L182.57 338.55 L185.21 338.11 L187.85 337.67 L190.49 337.25 L193.13 336.84 L195.77 336.43 L198.41 336.03 L201.05 335.64 L203.69 335.26 L206.33 334.89 L208.97 334.53 L211.61 334.18 L214.25 333.84 L216.89 333.51 L219.53 333.19 L222.17 332.88 L224.81 332.57 L227.45 332.28 L230.09 331.99 L232.73 331.71 L235.37 331.44 L238.01 331.18 L240.65 330.92 L243.29 330.67 L245.93 330.42 L248.57 330.18 L251.21 329.95 L253.85 329.73 L256.49 329.5 L259.13 329.29 L261.77 329.08 L264.41 328.87 L267.05 328.67 L269.69 328.47 L272.33 328.28 L274.97 328.09 L277.61 327.91 L280.25 327.73 L282.89 327.55 L285.53 327.38 L288.17 327.21 L290.8 327.05 L293.44 326.89 L296.08 326.73 L298.72 326.57 L301.36 326.42 L304 326.27 L306.64 326.12 L309.28 325.98 L311.92 325.84 L314.56 325.7 L317.2 325.56 L319.84 325.43 L322.48 325.3 L325.12 325.17 L327.76 325.04 L330.4 324.92 L333.04 324.79 L335.68 324.67 L338.32 324.55 L340.96 324.43 L343.6 324.32 L346.24 324.2 L348.88 324.09 L351.52 323.98 L354.16 323.87 L356.8 323.76 L359.44 323.65 L362.08 323.54 L364.72 323.44 L367.36 323.33 L370 323.23 L370 332.36 L367.36 332.5 L364.72 332.63 L362.08 332.77 L359.44 332.92 L356.8 333.08 L354.16 333.24 L351.52 333.41 L348.88 333.59 L346.24 333.77 L343.6 333.96 L340.96 334.16 L338.32 334.36 L335.68 334.57 L333.04 334.79 L330.4 335.01 L327.76 335.25 L325.12 335.49 L322.48 335.73 L319.84 335.99 L317.2 336.25 L314.56 336.52 L311.92 336.8 L309.28 337.08 L306.64 337.37 L304 337.67 L301.36 337.98 L298.72 338.3 L296.08 338.62 L293.44 338.96 L290.8 339.3 L288.17 339.65 L285.53 340.01 L282.89 340.38 L280.25 340.75 L277.61 341.14 L274.97 341.53 L272.33 341.93 L269.69 342.35 L267.05 342.77 L264.41 343.2 L261.77 343.64 L259.13 344.09 L256.49 344.55 L253.85 345.02 L251.21 345.49 L248.57 345.98 L245.93 346.48 L243.29 346.99 L240.65 347.51 L238.01 348.04 L235.37 348.58 L232.73 349.13 L230.09 349.69 L227.45 350.26 L224.81 350.85 L222.17 351.44 L219.53 352.05 L216.89 352.66 L214.25 353.29 L211.61 353.93 L208.97 354.58 L206.33 355.25 L203.69 355.92 L201.05 356.61 L198.41 357.31 L195.77 358.02 L193.13 358.74 L190.49 359.48 L187.85 360.23 L185.21 360.99 L182.57 361.77 L179.93 362.55 L177.29 363.35 L174.65 364.17 L172.01 365 L169.37 365.84 L166.73 366.69 L164.09 367.56 L161.45 368.44 L158.81 369.34 L156.17 370.25 L153.53 371.18 L150.89 372.12 L148.25 373.07 L145.61 374.04 L142.97 375.02 L140.33 376.02 L137.69 377.03 L135.05 378.06 L132.41 379.1 L129.77 380.16 L127.13 381.23 L124.5 382.32 L121.86 383.43 L119.22 384.55 L116.58 385.68 L113.94 386.83 L111.3 388 L108.66 389.18 L106.02 390.38 L103.38 391.6 L100.74 392.83 L98.1 394.08 L95.46 395.34 L92.82 396.64 L90.18 398 L87.54 399.4 L84.9 400.84 L82.26 402.31 L79.62 403.83 L76.98 405.36 L74.34 406.91 L71.7 408.49 L69.06 410.08 L66.42 411.66 L63.78 413.26 L61.14 414.9 L58.5 416.58 L55.86 418.31 L53.22 420.13 L50.58 422.1 L47.94 424.19 L45.3 426.28 Z" fill="url(#g22)" fill-opacity="0.4"/>
</g>
<rect x="45.3" y="314.8" width="317.7" height="36.2" fill="#808080" fill-opacity="0.235"/>
<path d="M131.87 359.94 C131.87 358.45 133.29 356.22 135.06 354.62 C136.83 353.03 139.49 351.68 142.5 350.37 C145.51 349.06 149.58 347.82 153.12 346.76 C156.67 345.7 160.21 344.74 163.75 344 C167.29 343.26 170.83 342.72 174.37 342.3 C177.91 341.87 181.46 341.63 185 341.45 C188.54 341.27 192.44 341.1 195.62 341.24 C198.81 341.38 201.89 341.66 204.12 342.3 C206.35 342.94 208.12 344.07 209.01 345.06 C209.9 346.05 210.25 347.12 209.43 348.25 C208.62 349.38 206.42 350.73 204.12 351.86 C201.82 352.99 198.81 354.06 195.62 355.05 C192.44 356.04 188.54 356.96 185 357.81 C181.46 358.66 177.91 359.41 174.37 360.15 C170.83 360.89 167.29 361.67 163.75 362.27 C160.21 362.88 156.67 363.37 153.12 363.76 C149.58 364.15 145.51 364.65 142.5 364.61 C139.49 364.58 136.83 364.33 135.06 363.55 C133.29 362.77 131.87 361.42 131.87 359.94 Z" fill="none" stroke="#1f9bdd" stroke-width="1.05" stroke-dasharray="3.3 1.5 1.0 1.5" stroke-linecap="butt"/>
<path d="M142.92 359.09 C142.78 358.13 144.02 356.82 145.9 355.69 C147.78 354.55 151.21 353.35 154.19 352.29 C157.16 351.22 160.38 350.2 163.75 349.31 C167.11 348.43 170.83 347.68 174.37 346.97 C177.91 346.27 181.46 345.59 185 345.06 C188.54 344.53 192.08 344.18 195.62 343.79 C199.16 343.4 202.71 343.01 206.25 342.72 C209.79 342.44 213.33 342.23 216.87 342.09 C220.41 341.95 224.49 341.84 227.5 341.87 C230.51 341.91 233.09 342.02 234.93 342.3 C236.78 342.58 238.19 343.08 238.55 343.57 C238.9 344.07 238.9 344.49 237.06 345.27 C235.22 346.05 230.86 347.29 227.5 348.25 C224.13 349.21 220.41 350.13 216.87 351.01 C213.33 351.9 209.79 352.82 206.25 353.56 C202.71 354.31 199.16 354.8 195.62 355.47 C192.08 356.15 188.54 357 185 357.6 C181.46 358.2 177.91 358.63 174.37 359.09 C170.83 359.55 167.29 359.97 163.75 360.36 C160.21 360.75 155.96 361.25 153.12 361.42 C150.29 361.6 148.45 361.81 146.75 361.42 C145.05 361.03 143.07 360.04 142.92 359.09 Z" fill="none" stroke="#74bb3c" stroke-width="1.05" stroke-dasharray="3.3 1.5 1.0 1.5" stroke-linecap="butt"/>
<path d="M141.44 358.87 C141.26 357.74 142.68 356.29 144.62 355.05 C146.57 353.81 149.94 352.57 153.12 351.44 C156.31 350.3 160.21 349.21 163.75 348.25 C167.29 347.29 170.83 346.44 174.37 345.7 C177.91 344.96 181.46 344.35 185 343.79 C188.54 343.22 192.08 342.72 195.62 342.3 C199.16 341.87 202.71 341.52 206.25 341.24 C209.79 340.95 213.33 340.74 216.87 340.6 C220.41 340.46 224.13 340.32 227.5 340.39 C230.86 340.46 234.58 340.67 237.06 341.02 C239.54 341.38 241.49 341.91 242.37 342.51 C243.26 343.11 243.26 343.93 242.37 344.64 C241.49 345.34 239.54 345.98 237.06 346.76 C234.58 347.54 230.86 348.43 227.5 349.31 C224.13 350.2 220.41 351.19 216.87 352.07 C213.33 352.96 209.79 353.84 206.25 354.62 C202.71 355.4 199.16 356.08 195.62 356.75 C192.08 357.42 188.54 358.09 185 358.66 C181.46 359.23 177.91 359.69 174.37 360.15 C170.83 360.61 167.29 361.07 163.75 361.42 C160.21 361.78 156.13 362.2 153.12 362.27 C150.11 362.34 147.63 362.42 145.69 361.85 C143.74 361.28 141.61 360.01 141.44 358.87 Z" fill="none" stroke="#de1f78" stroke-width="1.05" stroke-dasharray="3.3 1.5 1.0 1.5" stroke-linecap="butt"/>
<text x="177.3" y="375.2" font-size="10.8" text-anchor="start" >2.0M</text>
<circle cx="205" cy="374.7" r="2.7" fill="none" stroke="#1c1c1c" stroke-width="0.7"/>
<circle cx="205" cy="374.7" r="0.7" fill="#1c1c1c"/>
<path d="M290 424.9H347.5V385.8H349.2V426.8H290Z" fill="#6466b4"/>
<rect x="288.2" y="383.6" width="59.3" height="41.3" fill="#fff" stroke="#d8d8d8" stroke-width="0.6"/>
<rect x="289.6" y="386.1" width="23.9" height="10.9" fill="url(#g23)" fill-opacity="0.5"/>
<text x="316.8" y="395.45" font-size="10.4" text-anchor="start" >VRE</text>
<rect x="289.6" y="398.8" width="23.9" height="11.7" fill="url(#g24)" fill-opacity="0.5"/>
<text x="316.8" y="408.55" font-size="10.4" text-anchor="start" >MRE</text>
<rect x="289.6" y="412.3" width="23.9" height="11.2" fill="url(#g25)" fill-opacity="0.4"/>
<text x="316.8" y="421.8" font-size="10.4" text-anchor="start" >MRE2</text>
<rect x="434.5" y="244.8" width="318" height="195.7" fill="none" stroke="#1c1c1c" stroke-width="1.0"/>
<path d="M461 440.5v-4.6 M461 244.8v4.6 M514 440.5v-4.6 M514 244.8v4.6 M567 440.5v-4.6 M567 244.8v4.6 M620 440.5v-4.6 M620 244.8v4.6 M673 440.5v-4.6 M673 244.8v4.6 M726 440.5v-4.6 M726 244.8v4.6 M447.75 440.5v-3.2 M447.75 244.8v3.2 M474.25 440.5v-3.2 M474.25 244.8v3.2 M487.5 440.5v-3.2 M487.5 244.8v3.2 M500.75 440.5v-3.2 M500.75 244.8v3.2 M527.25 440.5v-3.2 M527.25 244.8v3.2 M540.5 440.5v-3.2 M540.5 244.8v3.2 M553.75 440.5v-3.2 M553.75 244.8v3.2 M580.25 440.5v-3.2 M580.25 244.8v3.2 M593.5 440.5v-3.2 M593.5 244.8v3.2 M606.75 440.5v-3.2 M606.75 244.8v3.2 M633.25 440.5v-3.2 M633.25 244.8v3.2 M646.5 440.5v-3.2 M646.5 244.8v3.2 M659.75 440.5v-3.2 M659.75 244.8v3.2 M686.25 440.5v-3.2 M686.25 244.8v3.2 M699.5 440.5v-3.2 M699.5 244.8v3.2 M712.75 440.5v-3.2 M712.75 244.8v3.2 M739.25 440.5v-3.2 M739.25 244.8v3.2 " stroke="#1c1c1c" stroke-width="0.9" fill="none"/>
<path d="M434.5 401.36h4.6 M752.5 401.36h-4.6 M434.5 362.22h4.6 M752.5 362.22h-4.6 M434.5 323.08h4.6 M752.5 323.08h-4.6 M434.5 283.94h4.6 M752.5 283.94h-4.6 M434.5 430.72h3.2 M752.5 430.72h-3.2 M434.5 420.93h3.2 M752.5 420.93h-3.2 M434.5 411.14h3.2 M752.5 411.14h-3.2 M434.5 391.57h3.2 M752.5 391.57h-3.2 M434.5 381.79h3.2 M752.5 381.79h-3.2 M434.5 372h3.2 M752.5 372h-3.2 M434.5 352.44h3.2 M752.5 352.44h-3.2 M434.5 342.65h3.2 M752.5 342.65h-3.2 M434.5 332.87h3.2 M752.5 332.87h-3.2 M434.5 313.3h3.2 M752.5 313.3h-3.2 M434.5 303.51h3.2 M752.5 303.51h-3.2 M434.5 293.73h3.2 M752.5 293.73h-3.2 M434.5 274.15h3.2 M752.5 274.15h-3.2 M434.5 264.37h3.2 M752.5 264.37h-3.2 M434.5 254.59h3.2 M752.5 254.59h-3.2 " stroke="#1c1c1c" stroke-width="0.9" fill="none"/>
<text x="461" y="455.3" font-size="10.8" text-anchor="middle" >0.2</text>
<text x="514" y="455.3" font-size="10.8" text-anchor="middle" >0.4</text>
<text x="567" y="455.3" font-size="10.8" text-anchor="middle" >0.6</text>
<text x="620" y="455.3" font-size="10.8" text-anchor="middle" >0.8</text>
<text x="673" y="455.3" font-size="10.8" text-anchor="middle" >1.0</text>
<text x="726" y="455.3" font-size="10.8" text-anchor="middle" >1.2</text>
<text x="428.7" y="444.3" font-size="10.8" text-anchor="end" >0.02</text>
<text x="428.7" y="405.16" font-size="10.8" text-anchor="end" >0.06</text>
<text x="428.7" y="366.02" font-size="10.8" text-anchor="end" >0.10</text>
<text x="428.7" y="326.88" font-size="10.8" text-anchor="end" >0.14</text>
<text x="428.7" y="287.74" font-size="10.8" text-anchor="end" >0.18</text>
<text x="428.7" y="248.6" font-size="10.8" text-anchor="end" >0.22</text>
<text x="594.1" y="474" font-size="11.7" text-anchor="middle" ><tspan font-style="italic">n</tspan> [fm<tspan dy="-4.2" font-size="8.4">-3</tspan><tspan dy="4.2">]</tspan></text>
<text transform="translate(397.8 338.45) rotate(-90)" font-size="11.7" text-anchor="middle"><tspan font-style="italic">F</tspan><tspan dx="0.6" dy="4.4" font-size="8.8">p</tspan></text>
<text x="447.5" y="267.3" font-size="11.7" text-anchor="start" font-weight="bold" fill="#1a1aa4" style="stroke:#1a1aa4">(d)</text>
<text x="447.1" y="341.3" font-size="11.3" text-anchor="start" ><tspan font-style="italic">F</tspan><tspan dx="-1" dy="2.3" font-size="7">DU</tspan></text>
<g clip-path="url(#c26)">
<path d="M435.2 416.7 L437.9 413.92 L440.6 411.11 L443.3 408.31 L446 405.59 L448.7 403 L451.64 400.35 L454.58 397.8 L457.52 395.34 L460.46 392.92 L463.4 390.5 L466.34 388.08 L469.28 385.68 L472.22 383.31 L475.16 380.98 L478.1 378.7 L481.02 376.45 L483.94 374.21 L486.86 372.02 L489.78 369.93 L492.7 368 L495.58 366.23 L498.47 364.54 L501.35 362.93 L504.23 361.39 L507.12 359.92 L510 358.5 L513 357.07 L516 355.7 L519 354.39 L522 353.15 L525 352 L527.71 351.02 L530.43 350.09 L533.14 349.19 L535.86 348.34 L538.57 347.52 L541.29 346.74 L544 346 L546.67 345.31 L549.33 344.64 L552 344.01 L554.67 343.4 L557.33 342.83 L560 342.3 L562.86 341.77 L565.71 341.26 L568.57 340.79 L571.43 340.33 L574.29 339.89 L577.14 339.44 L580 339 L582.86 338.55 L585.71 338.09 L588.57 337.64 L591.43 337.2 L594.29 336.77 L597.14 336.37 L600 336 L602.81 335.65 L605.62 335.32 L608.42 334.99 L611.23 334.67 L614.04 334.36 L616.85 334.07 L619.66 333.78 L622.47 333.5 L625.28 333.23 L628.08 332.98 L630.89 332.73 L633.7 332.5 L636.65 332.27 L639.6 332.04 L642.55 331.83 L645.5 331.62 L648.45 331.42 L651.4 331.22 L654.35 331.04 L657.3 330.85 L660.25 330.67 L663.2 330.49 L666.15 330.32 L669.1 330.15 L672.05 329.97 L675 329.8 L678 329.63 L681 329.46 L684 329.29 L687 329.13 L690 328.97 L693 328.81 L696 328.65 L699 328.5 L702 328.34 L705 328.19 L708 328.03 L711 327.88 L714 327.72 L717 327.56 L720 327.4 L722.95 327.24 L725.89 327.08 L728.84 326.91 L731.78 326.75 L734.73 326.58 L737.67 326.41 L740.62 326.25 L743.56 326.08 L746.51 325.92 L749.45 325.76 L752.4 325.6 L754.93 325.47 L757.47 325.33 L760 325.2 L760 332.9 L757.47 333.1 L754.93 333.3 L752.4 333.5 L749.45 333.74 L746.51 333.98 L743.56 334.23 L740.62 334.47 L737.67 334.72 L734.73 334.97 L731.78 335.23 L728.84 335.49 L725.89 335.75 L722.95 336.02 L720 336.3 L717 336.59 L714 336.88 L711 337.17 L708 337.47 L705 337.77 L702 338.07 L699 338.38 L696 338.7 L693 339.02 L690 339.35 L687 339.69 L684 340.03 L681 340.38 L678 340.73 L675 341.1 L672.05 341.47 L669.1 341.85 L666.15 342.24 L663.2 342.64 L660.25 343.05 L657.3 343.46 L654.35 343.89 L651.4 344.33 L648.45 344.77 L645.5 345.22 L642.55 345.68 L639.6 346.15 L636.65 346.62 L633.7 347.1 L630.77 347.59 L627.84 348.09 L624.91 348.61 L621.98 349.13 L619.05 349.67 L616.12 350.22 L613.19 350.78 L610.26 351.35 L607.33 351.92 L604.4 352.5 L601.46 353.08 L598.52 353.66 L595.58 354.24 L592.64 354.83 L589.7 355.43 L586.76 356.05 L583.82 356.69 L580.88 357.36 L577.94 358.06 L575 358.8 L572.28 359.54 L569.57 360.34 L566.85 361.18 L564.13 362.07 L561.42 362.98 L558.7 363.9 L555.96 364.86 L553.22 365.86 L550.48 366.89 L547.74 367.94 L545 369 L542.08 370.15 L539.15 371.32 L536.23 372.51 L533.3 373.72 L530.38 374.93 L527.45 376.15 L524.52 377.38 L521.6 378.6 L518.9 379.72 L516.2 380.85 L513.5 381.97 L510.8 383.1 L508.1 384.25 L505.4 385.41 L502.7 386.6 L500.2 387.72 L497.7 388.87 L495.2 390.03 L492.7 391.21 L490.2 392.4 L487.68 393.6 L485.16 394.82 L482.64 396.05 L480.12 397.31 L477.6 398.6 L475.08 399.93 L472.56 401.29 L470.04 402.68 L467.52 404.12 L465 405.6 L462.28 407.26 L459.57 408.99 L456.85 410.77 L454.13 412.57 L451.42 414.39 L448.7 416.2 L446 418 L443.3 419.82 L440.6 421.64 L437.9 423.47 L435.2 425.3 Z" fill="url(#g27)" fill-opacity="0.5"/>
<path d="M435.2 416.5 L437.9 413.28 L440.6 410.06 L443.3 406.84 L446 403.62 L448.7 400.4 L451.64 396.87 L454.58 393.33 L457.52 389.79 L460.46 386.28 L463.4 382.8 L466.34 379.36 L469.28 375.95 L472.22 372.57 L475.16 369.22 L478.1 365.9 L480.6 363.1 L483.1 360.31 L485.6 357.56 L488.1 354.85 L490.6 352.2 L493.24 349.46 L495.88 346.76 L498.52 344.11 L501.16 341.52 L503.8 339 L506.5 336.48 L509.2 334 L511.9 331.57 L514.6 329.19 L517.3 326.87 L520 324.6 L522.56 322.5 L525.12 320.46 L527.68 318.47 L530.24 316.51 L532.8 314.6 L535.44 312.66 L538.08 310.76 L540.72 308.89 L543.36 307.07 L546 305.3 L548.46 303.67 L550.92 302.07 L553.38 300.51 L555.84 299.01 L558.3 297.6 L561.13 296.06 L563.96 294.56 L566.79 293.11 L569.62 291.7 L572.45 290.33 L575.28 289 L578.11 287.7 L580.94 286.44 L583.77 285.21 L586.6 284 L589.5 282.79 L592.4 281.61 L595.3 280.45 L598.2 279.31 L601.1 278.2 L604 277.1 L606.9 276.03 L609.8 274.98 L612.7 273.95 L615.6 272.94 L618.5 271.94 L621.4 270.96 L624.3 270 L627.16 269.07 L630.01 268.16 L632.87 267.27 L635.72 266.39 L638.58 265.54 L641.43 264.7 L644.29 263.88 L647.14 263.08 L650 262.3 L652.95 261.5 L655.9 260.72 L658.85 259.94 L661.8 259.18 L664.75 258.43 L667.7 257.69 L670.65 256.97 L673.6 256.26 L676.55 255.57 L679.5 254.9 L682.45 254.24 L685.4 253.6 L688.29 252.99 L691.17 252.4 L694.06 251.82 L696.95 251.25 L699.84 250.69 L702.73 250.14 L705.61 249.6 L708.5 249.07 L711.39 248.54 L714.27 248.02 L717.16 247.51 L720.05 247 L722.94 246.5 L725.83 246 L728.71 245.5 L731.6 245 L734.57 244.49 L737.54 243.99 L740.51 243.49 L743.49 243 L746.46 242.53 L749.43 242.06 L752.4 241.6 L754.93 241.23 L757.47 240.86 L760 240.5 L760 328.1 L757.47 328.24 L754.93 328.37 L752.4 328.51 L749.45 328.67 L746.51 328.84 L743.56 329.01 L740.62 329.18 L737.67 329.36 L734.73 329.53 L731.78 329.71 L728.84 329.89 L725.89 330.07 L722.95 330.26 L720 330.45 L717 330.64 L714 330.84 L711 331.03 L708 331.23 L705 331.43 L702 331.64 L699 331.84 L696 332.05 L693 332.26 L690 332.48 L687 332.7 L684 332.92 L681 333.14 L678 333.37 L675 333.6 L672.05 333.83 L669.1 334.05 L666.15 334.27 L663.2 334.5 L660.25 334.72 L657.3 334.95 L654.35 335.19 L651.4 335.44 L648.45 335.69 L645.5 335.96 L642.55 336.24 L639.6 336.54 L636.65 336.86 L633.7 337.2 L630.77 337.57 L627.84 337.98 L624.91 338.42 L621.98 338.9 L619.05 339.41 L616.12 339.95 L613.19 340.51 L610.26 341.1 L607.33 341.7 L604.4 342.31 L601.52 342.96 L598.64 343.67 L595.76 344.42 L592.88 345.2 L590 345.97 L587 346.78 L584 347.6 L581 348.44 L578 349.3 L575 350.2 L572.28 351.05 L569.57 351.93 L566.85 352.83 L564.13 353.76 L561.42 354.71 L558.7 355.69 L555.96 356.7 L553.22 357.75 L550.48 358.83 L547.74 359.92 L545 361 L542.08 362.13 L539.15 363.25 L536.23 364.37 L533.3 365.49 L530.38 366.63 L527.45 367.8 L524.52 369.01 L521.6 370.26 L518.9 371.47 L516.2 372.72 L513.5 374.01 L510.8 375.33 L508.1 376.68 L505.4 378.07 L502.7 379.47 L500.2 380.82 L497.7 382.21 L495.2 383.63 L492.7 385.07 L490.2 386.51 L487.68 387.95 L485.16 389.41 L482.64 390.87 L480.12 392.34 L477.6 393.8 L475.08 395.23 L472.56 396.64 L470.04 398.06 L467.52 399.53 L465 401.1 L462.28 402.93 L459.57 404.88 L456.85 406.91 L454.13 408.98 L451.42 411.06 L448.7 413.09 L446 415.07 L443.3 417.05 L440.6 419.04 L437.9 421.02 L435.2 423 Z" fill="url(#g29)" fill-opacity="0.4"/>
<path d="M435.2 417.2 L437.9 414.53 L440.6 411.83 L443.3 409.14 L446 406.52 L448.7 404 L451.64 401.39 L454.58 398.88 L457.52 396.43 L460.46 394.01 L463.4 391.6 L466.34 389.19 L469.28 386.8 L472.22 384.44 L475.16 382.1 L478.1 379.8 L481.02 377.55 L483.94 375.34 L486.86 373.15 L489.78 370.97 L492.7 368.8 L495.13 366.98 L497.57 365.17 L500 363.4 L502.86 361.35 L505.71 359.32 L508.57 357.31 L511.43 355.33 L514.29 353.38 L517.14 351.47 L520 349.6 L522.65 347.92 L525.3 346.28 L527.95 344.68 L530.6 343.1 L533.27 341.53 L535.95 339.98 L538.62 338.47 L541.3 337 L543.95 335.59 L546.6 334.22 L549.25 332.88 L551.9 331.6 L554.55 330.36 L557.2 329.15 L559.85 328 L562.5 326.9 L565.15 325.86 L567.8 324.86 L570.45 323.91 L573.1 323 L575.77 322.12 L578.45 321.28 L581.12 320.47 L583.8 319.7 L586.5 318.96 L589.2 318.25 L591.9 317.56 L594.6 316.9 L597.3 316.24 L600 315.6 L602.81 314.93 L605.62 314.27 L608.42 313.61 L611.23 312.96 L614.04 312.32 L616.85 311.68 L619.66 311.06 L622.47 310.46 L625.28 309.86 L628.08 309.29 L630.89 308.73 L633.7 308.2 L636.65 307.66 L639.6 307.13 L642.55 306.61 L645.5 306.11 L648.45 305.62 L651.4 305.14 L654.35 304.67 L657.3 304.21 L660.25 303.75 L663.2 303.31 L666.15 302.87 L669.1 302.44 L672.05 302.02 L675 301.6 L677.78 301.22 L680.56 300.84 L683.33 300.48 L686.11 300.13 L688.89 299.78 L691.67 299.43 L694.44 299.09 L697.22 298.75 L700 298.4 L702.91 298.03 L705.82 297.67 L708.73 297.3 L711.64 296.93 L714.56 296.57 L717.47 296.2 L720.38 295.83 L723.29 295.47 L726.2 295.11 L729.11 294.75 L732.02 294.39 L734.93 294.03 L737.84 293.68 L740.76 293.34 L743.67 293 L746.58 292.66 L749.49 292.33 L752.4 292 L754.93 291.73 L757.47 291.46 L760 291.2 L760 325.6 L757.47 325.73 L754.93 325.86 L752.4 326 L749.45 326.16 L746.51 326.33 L743.56 326.49 L740.62 326.66 L737.67 326.83 L734.73 327 L731.78 327.18 L728.84 327.35 L725.89 327.53 L722.95 327.72 L720 327.9 L717 328.09 L714 328.28 L711 328.47 L708 328.66 L705 328.85 L702 329.04 L699 329.24 L696 329.44 L693 329.65 L690 329.86 L687 330.07 L684 330.29 L681 330.52 L678 330.76 L675 331 L672.05 331.24 L669.1 331.49 L666.15 331.74 L663.2 332 L660.25 332.26 L657.3 332.54 L654.35 332.82 L651.4 333.11 L648.45 333.42 L645.5 333.74 L642.55 334.08 L639.6 334.43 L636.65 334.81 L633.7 335.2 L630.77 335.62 L627.84 336.09 L624.91 336.59 L621.98 337.13 L619.05 337.71 L616.12 338.32 L613.19 338.95 L610.26 339.61 L607.33 340.3 L604.4 341 L601.52 341.75 L598.64 342.59 L595.76 343.48 L592.88 344.39 L590 345.3 L587 346.24 L584 347.19 L581 348.16 L578 349.16 L575 350.2 L572.28 351.18 L569.57 352.19 L566.85 353.23 L564.13 354.3 L561.42 355.39 L558.7 356.5 L555.96 357.64 L553.22 358.81 L550.48 360.01 L547.74 361.24 L545 362.5 L542.08 363.87 L539.15 365.26 L536.23 366.67 L533.3 368.12 L530.38 369.59 L527.45 371.09 L524.52 372.63 L521.6 374.2 L518.9 375.7 L516.2 377.26 L513.5 378.86 L510.8 380.48 L508.1 382.12 L505.4 383.77 L502.7 385.4 L500.2 386.91 L497.7 388.44 L495.2 389.98 L492.7 391.5 L490.2 393 L487.68 394.48 L485.16 395.95 L482.64 397.4 L480.12 398.85 L477.6 400.3 L475.08 401.76 L472.56 403.21 L470.04 404.66 L467.52 406.12 L465 407.6 L462.28 409.21 L459.57 410.84 L456.85 412.48 L454.13 414.12 L451.42 415.76 L448.7 417.4 L446 419.02 L443.3 420.64 L440.6 422.26 L437.9 423.88 L435.2 425.5 Z" fill="url(#g28)" fill-opacity="0.4"/>
</g>
<rect x="434.5" y="314.8" width="318" height="36.2" fill="#808080" fill-opacity="0.235"/>
<path d="M533 356.5 C533.5 355.33 536.35 353.42 539 352.2 C541.65 350.98 544.12 350.17 548.9 349.2 C553.68 348.23 561.42 347.23 567.7 346.4 C573.98 345.57 580.3 344.83 586.6 344.2 C592.9 343.57 599.83 343.02 605.5 342.6 C611.17 342.18 616.52 341.78 620.6 341.7 C624.68 341.62 627.87 341.72 630 342.1 C632.13 342.48 633.72 343.28 633.4 344 C633.08 344.72 631.18 345.53 628.1 346.4 C625.02 347.27 620.25 348.1 614.9 349.2 C609.55 350.3 602.28 351.9 596 353 C589.72 354.1 583.48 355.02 577.2 355.8 C570.92 356.58 563.67 357.23 558.3 357.7 C552.93 358.17 548.72 358.35 545 358.6 C541.28 358.85 538 359.55 536 359.2 C534 358.85 532.5 357.67 533 356.5 Z" fill="none" stroke="#74bb3c" stroke-width="1.05" stroke-dasharray="3.3 1.5 1.0 1.5" stroke-linecap="butt"/>
<path d="M529.5 351.5 C529.55 350.17 530.83 347.6 532.8 345.5 C534.77 343.4 538 340.95 541.3 338.9 C544.6 336.85 548.2 334.93 552.6 333.2 C557 331.47 562.67 329.85 567.7 328.5 C572.73 327.15 577.77 325.88 582.8 325.1 C587.83 324.32 592.87 323.93 597.9 323.8 C602.93 323.67 607.97 323.83 613 324.3 C618.03 324.77 624.17 325.83 628.1 326.6 C632.03 327.37 636.28 327.7 636.6 328.9 C636.92 330.1 632.67 332.37 630 333.8 C627.33 335.23 624.68 336.12 620.6 337.5 C616.52 338.88 611.17 340.68 605.5 342.1 C599.83 343.52 592.9 344.82 586.6 346 C580.3 347.18 573.98 348.28 567.7 349.2 C561.42 350.12 553.93 350.93 548.9 351.5 C543.87 352.07 540.23 352.27 537.5 352.6 C534.77 352.93 533.83 353.68 532.5 353.5 C531.17 353.32 529.45 352.83 529.5 351.5 Z" fill="none" stroke="#de1f78" stroke-width="1.05" stroke-dasharray="3.3 1.5 1.0 1.5" stroke-linecap="butt"/>
<path d="M531.9 344.5 C532.38 341.92 534.13 336.23 535.7 332.3 C537.27 328.37 539.1 324.52 541.3 320.9 C543.5 317.28 546.07 313.9 548.9 310.6 C551.73 307.3 555.17 303.78 558.3 301.1 C561.43 298.42 564.55 296.38 567.7 294.5 C570.85 292.62 574.05 291.12 577.2 289.8 C580.35 288.48 583.47 287.53 586.6 286.6 C589.73 285.67 593.33 284.77 596 284.2 C598.67 283.63 600.4 282.9 602.6 283.2 C604.8 283.5 606.83 284.73 609.2 286 C611.57 287.27 614.28 288.75 616.8 290.8 C619.32 292.85 622.1 295.63 624.3 298.3 C626.5 300.97 628.48 303.97 630 306.8 C631.52 309.63 632.45 312.47 633.4 315.3 C634.35 318.13 635.17 321.6 635.7 323.8 C636.23 326 637.55 326.93 636.6 328.5 C635.65 330.07 632.67 331.78 630 333.2 C627.33 334.62 624.68 335.58 620.6 337 C616.52 338.42 611.17 340.28 605.5 341.7 C599.83 343.12 592.9 344.4 586.6 345.5 C580.3 346.6 573.98 347.52 567.7 348.3 C561.42 349.08 553.93 349.88 548.9 350.2 C543.87 350.52 540.18 350.6 537.5 350.2 C534.82 349.8 533.73 348.75 532.8 347.8 C531.87 346.85 531.42 347.08 531.9 344.5 Z" fill="none" stroke="#1f9bdd" stroke-width="1.05" stroke-dasharray="3.3 1.5 1.0 1.5" stroke-linecap="butt"/>
<path d="M502.1 375.3 C502.35 374.03 502.97 371.55 504.4 369.7 C505.83 367.85 508.33 365.72 510.7 364.2 C513.07 362.68 515.98 361.38 518.6 360.6 C521.22 359.82 524.05 359.42 526.4 359.5 C528.75 359.58 530.85 360.32 532.7 361.1 C534.55 361.88 536.5 363.02 537.5 364.2 C538.5 365.38 538.97 366.88 538.7 368.2 C538.43 369.52 537.55 370.8 535.9 372.1 C534.25 373.4 531.68 375 528.8 376 C525.92 377 522 377.7 518.6 378.1 C515.2 378.5 511.02 378.53 508.4 378.4 C505.78 378.27 503.95 377.82 502.9 377.3 C501.85 376.78 501.85 376.57 502.1 375.3 Z" fill="none" stroke="#6ab046" stroke-width="1.2"/>
<path d="M502.9 373.7 C502.63 372.52 502.82 370.17 503.6 368.2 C504.38 366.23 505.63 363.87 507.6 361.9 C509.57 359.93 512.78 357.97 515.4 356.4 C518.02 354.83 521.07 353.37 523.3 352.5 C525.53 351.63 527.35 351.2 528.8 351.2 C530.25 351.2 531.08 351.63 532 352.5 C532.92 353.37 533.6 355.1 534.3 356.4 C535 357.7 536.07 359 536.2 360.3 C536.33 361.6 536.07 362.75 535.1 364.2 C534.13 365.65 532.63 367.55 530.4 369 C528.17 370.45 524.72 371.85 521.7 372.9 C518.68 373.95 515.05 374.9 512.3 375.3 C509.55 375.7 506.77 375.57 505.2 375.3 C503.63 375.03 503.17 374.88 502.9 373.7 Z" fill="none" stroke="#de1f78" stroke-width="1.2"/>
<path d="M524.9 323.4 C527.13 323 528.83 324.53 530.4 326.5 C531.97 328.47 533.25 332.18 534.3 335.2 C535.35 338.22 536.23 341.47 536.7 344.6 C537.17 347.73 537.5 351.12 537.1 354 C536.7 356.88 535.82 359.75 534.3 361.9 C532.78 364.05 530.62 365.72 528 366.9 C525.38 368.08 521.73 368.78 518.6 369 C515.47 369.22 511.52 369 509.2 368.2 C506.88 367.4 505.63 366.03 504.7 364.2 C503.77 362.37 503.38 359.95 503.6 357.2 C503.82 354.45 504.82 350.85 506 347.7 C507.18 344.55 508.87 341.43 510.7 338.3 C512.53 335.17 514.63 331.38 517 328.9 C519.37 326.42 522.67 323.8 524.9 323.4 Z" fill="none" stroke="#1f9bdd" stroke-width="1.2"/>
<text x="574.9" y="370.8" font-size="10.8" text-anchor="start" >2.0M</text>
<circle cx="602.6" cy="370.3" r="2.7" fill="none" stroke="#1c1c1c" stroke-width="0.7"/>
<circle cx="602.6" cy="370.3" r="0.7" fill="#1c1c1c"/>
<text x="511.6" y="392.6" font-size="10.8" text-anchor="start" >1.4M</text>
<circle cx="539.3" cy="392.1" r="2.7" fill="none" stroke="#1c1c1c" stroke-width="0.7"/>
<circle cx="539.3" cy="392.1" r="0.7" fill="#1c1c1c"/>
<path d="M680.2 424.9H736.2V385.8H737.9V426.8H680.2Z" fill="#6466b4"/>
<rect x="678.4" y="383.6" width="57.8" height="41.3" fill="#fff" stroke="#d8d8d8" stroke-width="0.6"/>
<rect x="679.8" y="386.1" width="23.9" height="10.9" fill="url(#g30)" fill-opacity="0.5"/>
<text x="707" y="395.45" font-size="10.4" text-anchor="start" >VRE</text>
<rect x="679.8" y="398.8" width="23.9" height="11.7" fill="url(#g31)" fill-opacity="0.5"/>
<text x="707" y="408.55" font-size="10.4" text-anchor="start" >VRR</text>
<rect x="679.8" y="412.3" width="23.9" height="11.2" fill="url(#g32)" fill-opacity="0.4"/>
<text x="707" y="421.8" font-size="10.4" text-anchor="start" >VRR2</text>
</svg>
</body></html>
